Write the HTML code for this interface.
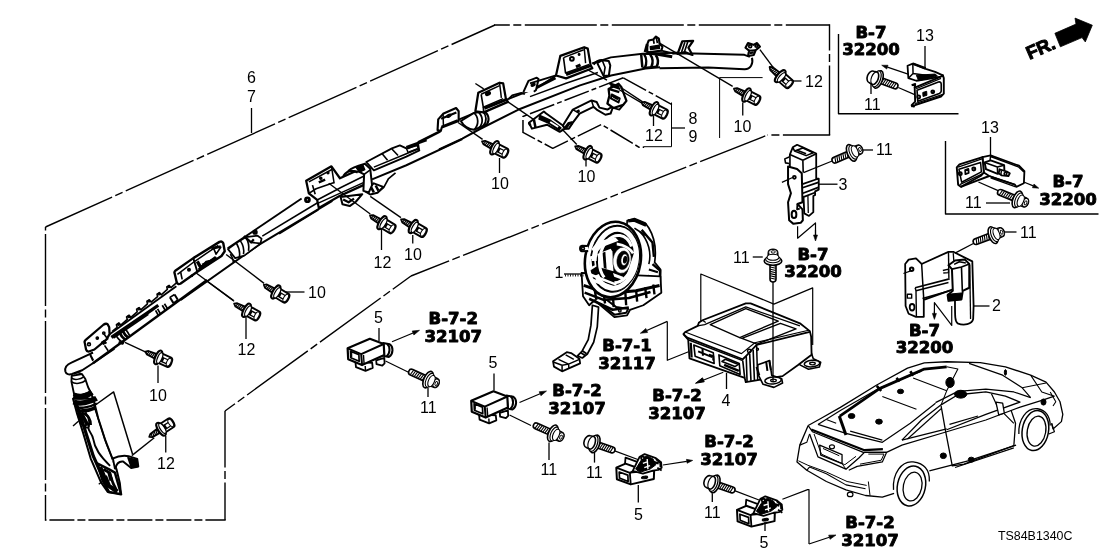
<!DOCTYPE html>
<html><head><meta charset="utf-8"><title>TS84B1340C</title>
<style>
html,body{margin:0;padding:0;background:#fff;}
body{width:1108px;height:554px;overflow:hidden;}
svg{display:block;will-change:transform;}
svg *{stroke-linecap:butt;stroke-linejoin:round;}
text{font-family:"Liberation Sans",sans-serif;fill:#000;stroke:none;}
text.b{font-family:"DejaVu Sans","Liberation Sans",sans-serif;font-weight:bold;font-size:16.6px;text-anchor:middle;stroke:#000;stroke-width:0.9px;paint-order:stroke;}
</style></head><body>
<svg width="1108" height="554" viewBox="0 0 1108 554" fill="none" stroke="#000">
<line x1="45.5" y1="227" x2="495" y2="25" stroke-width="1.4" stroke-dasharray="74.3 3.5 8 3.5" stroke-dashoffset="1.3"/>
<line x1="494" y1="25" x2="829.5" y2="25" stroke-width="1.4" stroke-dasharray="72 3.5 8 3.5" stroke-dashoffset="56.2"/>
<line x1="829.5" y1="24.3" x2="829.5" y2="135" stroke-width="1.4" stroke-dasharray="72 3.5 8 3.5" stroke-dashoffset="45.8"/>
<line x1="830.2" y1="135" x2="767.5" y2="135" stroke-width="1.4" stroke-dasharray="72 3.5 8 3.5" stroke-dashoffset="24.7"/>
<line x1="767.5" y1="135" x2="411" y2="276" stroke-width="1.4" stroke-dasharray="70 3.5 8 3.5" stroke-dashoffset="82.6"/>
<line x1="411" y1="276" x2="225" y2="411" stroke-width="1.4" stroke-dasharray="75 3.5 8 3.5" stroke-dashoffset="52.5"/>
<line x1="225" y1="411" x2="225" y2="520" stroke-width="1.4" stroke-dasharray="72 3.5 8 3.5" stroke-dashoffset="15.5"/>
<line x1="225.7" y1="520" x2="45.5" y2="520" stroke-width="1.4" stroke-dasharray="25 3 8 3" stroke-dashoffset="4.7"/>
<line x1="45.5" y1="520.7" x2="45.5" y2="227" stroke-width="1.4" stroke-dasharray="72 3.5 8 3.5" stroke-dashoffset="46.3"/>
<text x="247" y="83" font-size="16" text-anchor="start" >6</text>
<text x="247" y="102" font-size="16" text-anchor="start" >7</text>
<line x1="251.5" y1="108" x2="251.5" y2="133" stroke-width="1.3" />
<text x="237.5" y="355" font-size="16" text-anchor="start" >12</text>
<line x1="246" y1="317" x2="246" y2="339" stroke-width="1.3" />
<text x="149" y="400.5" font-size="16" text-anchor="start" >10</text>
<line x1="158" y1="365.5" x2="158" y2="383" stroke-width="1.3" />
<text x="157" y="468.5" font-size="16" text-anchor="start" >12</text>
<line x1="165.75" y1="436" x2="165.75" y2="452.5" stroke-width="1.3" />
<text x="373.5" y="267.5" font-size="16" text-anchor="start" >12</text>
<line x1="381.5" y1="229" x2="381.5" y2="250" stroke-width="1.3" />
<text x="404" y="260" font-size="16" text-anchor="start" >10</text>
<line x1="412.75" y1="235" x2="412.75" y2="243.5" stroke-width="1.3" />
<text x="491" y="188.5" font-size="16" text-anchor="start" >10</text>
<line x1="499.5" y1="158" x2="499.5" y2="173" stroke-width="1.3" />
<text x="308" y="297.5" font-size="16" text-anchor="start" >10</text>
<line x1="286" y1="292" x2="304.5" y2="292" stroke-width="1.3" />
<text x="374" y="323" font-size="16" text-anchor="start" >5</text>
<text x="420" y="413" font-size="16" text-anchor="start" >11</text>
<line x1="428" y1="388" x2="428" y2="397" stroke-width="1.3" />
<text x="488.5" y="367.5" font-size="16" text-anchor="start" >5</text>
<text x="540.5" y="475" font-size="16" text-anchor="start" >11</text>
<line x1="549" y1="442.5" x2="549" y2="460" stroke-width="1.3" />
<text x="805" y="87" font-size="16" text-anchor="start" >12</text>
<line x1="793" y1="81" x2="801.5" y2="81" stroke-width="1.3" />
<text x="733.5" y="132" font-size="16" text-anchor="start" >10</text>
<line x1="742.75" y1="102.5" x2="742.75" y2="115.5" stroke-width="1.3" />
<text x="688.5" y="124" font-size="16" text-anchor="start" >8</text>
<text x="688.5" y="142" font-size="16" text-anchor="start" >9</text>
<text x="645" y="140.5" font-size="16" text-anchor="start" >12</text>
<line x1="653.5" y1="116" x2="653.5" y2="126" stroke-width="1.3" />
<text x="577.5" y="182" font-size="16" text-anchor="start" >10</text>
<line x1="586" y1="158" x2="586" y2="166.5" stroke-width="1.3" />
<text x="554.5" y="278" font-size="16" text-anchor="start" >1</text>
<line x1="564" y1="274" x2="585" y2="274" stroke-width="1.3" />
<text x="733" y="262.75" font-size="16" text-anchor="start" >11</text>
<line x1="752.75" y1="257" x2="762.75" y2="257" stroke-width="1.3" />
<text x="876" y="155" font-size="16" text-anchor="start" >11</text>
<line x1="860.5" y1="150" x2="873" y2="150" stroke-width="1.3" />
<text x="838.5" y="190" font-size="16" text-anchor="start" >3</text>
<line x1="819" y1="184.2" x2="837.5" y2="184.2" stroke-width="1.3" />
<text x="965" y="208" font-size="16" text-anchor="start" >11</text>
<line x1="986" y1="203" x2="1010" y2="203" stroke-width="1.3" />
<text x="1020" y="237.75" font-size="16" text-anchor="start" >11</text>
<line x1="1003.5" y1="232" x2="1016.5" y2="232" stroke-width="1.3" />
<text x="916" y="40.5" font-size="16" text-anchor="start" >13</text>
<line x1="925" y1="46" x2="925" y2="68" stroke-width="1.3" />
<text x="864" y="109.5" font-size="16" text-anchor="start" >11</text>
<line x1="871" y1="84" x2="871" y2="94" stroke-width="1.3" />
<text x="981" y="132.5" font-size="16" text-anchor="start" >13</text>
<line x1="990.5" y1="137" x2="990.5" y2="155" stroke-width="1.3" />
<text x="992" y="311" font-size="16" text-anchor="start" >2</text>
<line x1="973.5" y1="306" x2="989.5" y2="306" stroke-width="1.3" />
<text x="721.5" y="405.5" font-size="16" text-anchor="start" >4</text>
<line x1="726.5" y1="373" x2="726.5" y2="389" stroke-width="1.3" />
<text x="586" y="478" font-size="16" text-anchor="start" >11</text>
<text x="634" y="519.5" font-size="16" text-anchor="start" >5</text>
<text x="704" y="518" font-size="16" text-anchor="start" >11</text>
<text x="759.5" y="547.5" font-size="16" text-anchor="start" >5</text>
<text x="998" y="540" font-size="12.4" text-anchor="start" >TS84B1340C</text>
<text class="b" x="453.3" y="324">B-7-2</text>
<text class="b" x="453.3" y="342">32107</text>
<text class="b" x="577" y="396">B-7-2</text>
<text class="b" x="577" y="414">32107</text>
<text class="b" x="627" y="351">B-7-1</text>
<text class="b" x="627" y="368.5">32117</text>
<text class="b" x="677" y="401">B-7-2</text>
<text class="b" x="677" y="419">32107</text>
<text class="b" x="729" y="447">B-7-2</text>
<text class="b" x="729" y="465">32107</text>
<text class="b" x="870" y="528">B-7-2</text>
<text class="b" x="870" y="545.5">32107</text>
<text class="b" x="813" y="259.5">B-7</text>
<text class="b" x="813" y="277">32200</text>
<text class="b" x="871" y="38">B-7</text>
<text class="b" x="871" y="55">32200</text>
<text class="b" x="1068" y="186.5">B-7</text>
<text class="b" x="1068" y="204.5">32200</text>
<text class="b" x="924.5" y="335.5">B-7</text>
<text class="b" x="924.5" y="353">32200</text>
<polyline points="838.5,34 838.5,113.7 958.5,113.7" stroke-width="1.4" fill="none" />
<polyline points="945.5,141 945.5,214 1098.5,214" stroke-width="1.4" fill="none" />
<polyline points="671.5,102.5 671.5,146.7 643.5,146.7" stroke-width="1.0" fill="none" />
<line x1="671.5" y1="128" x2="685" y2="128" stroke-width="1.3" />
<polyline points="762.6,77.6 719.6,77.6 719.6,138" stroke-width="1.0" fill="none" />
<path d="M 92.93 352.53 L 71.43 362.64 C 67.01 364.54 64.48 367.7 65.37 371.49 C 66.13 374.27 68.91 375.03 72.07 374.02 L 82.18 370.23 L 92.93 363.27 L 114.42 348.74" stroke-width="2.0" fill="#fff" />
<line x1="90.15" y1="355.06" x2="92.93" y2="360.87" stroke-width="1.5" />
<path d="M 71.69 375.92 L 71.43 381.61 L 73.96 393.62 L 75.23 401.83 L 92.93 398.67 L 91.03 392.98 L 88.12 387.29 L 85.34 379.08 L 81.93 374.02 Z" stroke-width="1.88" fill="#fff" />
<path d="M 71.69 378.07 C 73.96 380.34 80.28 379.71 83.82 376.8" stroke-width="1.5" fill="none" />
<path d="M 71.43 381.61 C 75.23 384.77 82.18 383.5 85.59 380.34" stroke-width="1.5" fill="none" />
<path d="M 73.96 374.02 C 75.86 372.76 79.02 372.5 80.92 373.51" stroke-width="1.5" fill="none" />
<path d="M 73.71 394.25 C 79.02 397.03 86.61 395.51 91.41 392.35" stroke-width="4.0" fill="none" />
<path d="M 74.97 401.83 C 80.28 403.73 90.4 401.83 95.2 398.04" stroke-width="4.25" fill="none" />
<path d="M 77.12 406.26 C 82.18 407.52 89.13 406.26 93.56 403.73" stroke-width="1.75" fill="none" />
<path d="M 78.39 409.42 C 82.18 410.43 87.87 409.42 91.66 407.52" stroke-width="2.75" fill="none" />
<path d="M 73.02 398.74 L 77.08 413.63 L 83.04 432.59 L 90.62 458.31 L 100.91 482.14 L 107.68 491.89 L 120.95 493.79 L 119.86 483.23 L 116.61 469.69 L 112.28 458.31 L 104.97 439.36 L 98.2 418.24 L 93.33 398.74 Z" stroke-width="2.0" fill="#fff" />
<path d="M 76.0 402.8 L 84.66 429.07 L 93.33 456.15 L 104.16 480.52 L 110.11 490.27" stroke-width="3.25" fill="none" />
<path d="M 81.95 412.82 C 87.91 412.82 90.62 420.4 88.45 427.17 C 87.91 431.23 91.97 432.59 93.33 439.36 C 94.68 448.84 100.09 456.15 110.11 465.89" stroke-width="1.88" fill="none" />
<path d="M 79.24 408.22 C 83.85 408.22 86.56 412.28 87.37 416.34" stroke-width="1.62" fill="none" />
<path d="M 93.87 405.51 L 100.09 424.47 L 106.32 443.42 L 113.63 461.56" stroke-width="1.5" fill="none" />
<path d="M 97.6 463.54 L 109.15 469.31 L 114.93 472.56 L 121.06 494.22 L 109.15 492.06 L 102.29 479.78 Z" stroke-width="2.5" fill="#fff" />
<path d="M 100.13 467.15 L 107.35 484.84 L 117.27 491.7" stroke-width="4.25" fill="none" />
<path d="M 103.38 469.31 L 109.15 472.56 L 113.12 483.39 L 116.73 490.61" stroke-width="2.75" fill="none" />
<path d="M 109.15 472.2 L 111.32 480.51" stroke-width="3.75" fill="none" />
<path d="M 105.54 475.81 L 109.15 484.84" stroke-width="3.0" fill="none" />
<circle cx="87.13" cy="426.17" r="1.62" stroke-width="1.75" fill="none"/>
<path d="M 74.05 395.53 C 78.82 398.13 86.39 396.61 92.02 392.28" stroke-width="5.5" fill="none" />
<path d="M 73.62 401.81 C 79.9 404.62 89.64 402.46 96.57 398.34" stroke-width="5.25" fill="none" />
<path d="M 76.22 407.0 C 82.06 408.84 90.72 406.79 96.79 403.54" stroke-width="2.25" fill="none" />
<path d="M 77.19 410.47 C 83.15 411.77 89.64 410.47 95.27 407.87" stroke-width="3.5" fill="none" />
<path d="M 78.27 412.63 L 82.06 424.97 M 80.98 412.63 L 87.48 424.97" stroke-width="3.75" fill="none" />
<path d="M 84.23 413.71 C 88.56 415.88 90.72 420.21 90.72 424.97" stroke-width="2.5" fill="none" />
<path d="M 111.74 458.85 C 117.7 456.15 123.11 455.06 128.53 456.15 L 137.19 458.85 L 138.28 466.44 L 131.23 468.06 L 123.11 461.56 C 119.05 461.02 116.34 463.73 114.99 469.14" stroke-width="2.0" fill="#fff" />
<path d="M 127.99 457.77 L 137.19 459.94 L 137.73 466.44 L 131.23 467.25 Z" stroke-width="1.5" fill="#000" />
<line x1="112.82" y1="457.77" x2="114.99" y2="469.14" stroke-width="1.88" />
<polyline points="94.68,405.51 113.63,391.97 132.59,454.25" stroke-width="1.5" fill="none" />
<line x1="131.78" y1="455.61" x2="154.25" y2="437.73" stroke-width="1.38" />
<line x1="73.02" y1="426.09" x2="78.7" y2="420.95" stroke-width="1.38" />
<line x1="98.74" y1="484.31" x2="103.07" y2="481.06" stroke-width="1.38" />
<line x1="92.96" y1="363.21" x2="207.04" y2="280.0" stroke-width="2.38" />
<line x1="92.96" y1="352.56" x2="90.07" y2="354.01" stroke-width="1.75" />
<path d="M 109.57 334.15 L 176.35 286.32" stroke-width="1.88" fill="none" />
<path d="M 112.27 331.44 L 117.15 327.29 L 116.43 324.77 L 118.95 322.96 L 120.76 325.13 L 127.26 319.35 L 126.53 316.82 L 129.06 315.2 L 130.87 317.36 L 137.18 311.77 L 136.64 309.24 L 139.17 307.62 L 140.79 309.78 L 147.47 303.83 L 146.93 301.3 L 149.28 299.86 L 151.08 302.02 L 157.58 296.61 L 157.04 294.08 L 159.39 292.64 L 161.19 294.8 L 167.33 289.39 L 166.79 286.86 L 169.13 285.42 L 170.94 287.58 L 177.26 282.17" stroke-width="1.62" fill="none" />
<circle cx="118.59" cy="324.4" r="0.9" stroke-width="1.25" fill="#000"/>
<circle cx="128.7" cy="316.64" r="0.9" stroke-width="1.25" fill="#000"/>
<circle cx="138.81" cy="308.88" r="0.9" stroke-width="1.25" fill="#000"/>
<circle cx="148.92" cy="301.12" r="0.9" stroke-width="1.25" fill="#000"/>
<circle cx="159.03" cy="293.9" r="0.9" stroke-width="1.25" fill="#000"/>
<circle cx="168.77" cy="286.68" r="0.9" stroke-width="1.25" fill="#000"/>
<path d="M 111.37 337.4 L 151.08 310.32 L 158.3 305.27" stroke-width="3.25" fill="none" />
<path d="M 113.54 338.12 L 148.38 314.3" stroke-width="1.5" fill="none" />
<path d="M 84.84 343.18 Q 83.94 341.37 85.74 339.93 L 103.43 324.77 Q 105.96 322.96 107.76 324.4 L 109.21 327.29 L 109.57 334.15 L 106.32 339.57 L 94.4 349.49 L 88.99 351.48 Q 86.82 351.84 86.1 349.68 Z" stroke-width="2.25" fill="#fff" />
<circle cx="88.99" cy="344.26" r="1.44" stroke-width="1.62" fill="none"/>
<circle cx="103.79" cy="333.07" r="1.08" stroke-width="1.62" fill="none"/>
<circle cx="97.29" cy="338.12" r="1.26" stroke-width="1.25" fill="#000"/>
<path d="M 101.44 342.27 L 104.15 340.47 L 106.32 342.82 L 103.43 344.26 Z" stroke-width="1.25" fill="#000" />
<path d="M 104.15 334.15 L 108.12 339.57" stroke-width="1.62" fill="none" />
<path d="M 115.34 334.15 C 117.15 337.76 119.49 340.47 121.84 341.73" stroke-width="1.75" fill="none" />
<path d="M 119.49 332.35 C 120.76 335.6 122.92 338.12 125.09 339.57" stroke-width="2.75" fill="none" />
<path d="M 122.56 330.54 C 124.01 333.43 125.81 335.96 127.98 337.4" stroke-width="2.75" fill="none" />
<path d="M 125.45 329.1 C 127.26 331.62 128.7 333.79 129.78 335.96" stroke-width="1.75" fill="none" />
<path d="M 118.59 342.27 L 122.56 343.54 L 123.65 341.01" stroke-width="2.5" fill="none" />
<line x1="90.07" y1="354.01" x2="93.32" y2="360.14" stroke-width="1.62" />
<line x1="104.51" y1="345.34" x2="108.12" y2="350.76" stroke-width="1.62" />
<path d="M 155.6 310.32 L 158.3 315.38 M 157.58 308.88 L 160.47 313.94" stroke-width="1.75" fill="none" />
<path d="M 162.27 305.27 L 165.52 310.69 M 164.44 303.83 L 167.69 308.88" stroke-width="1.75" fill="none" />
<path d="M 169.86 297.33 L 173.47 303.1 M 174.55 294.44 L 177.8 299.86" stroke-width="2.0" fill="none" />
<path d="M 169.86 297.33 L 174.55 294.44 M 173.47 303.1 L 177.8 299.86" stroke-width="1.62" fill="none" />
<line x1="124.91" y1="342.27" x2="145.31" y2="351.84" stroke-width="1.38" />
<line x1="207.4" y1="281.44" x2="234.12" y2="301.3" stroke-width="1.38" />
<path d="M 180.69 300.0 L 258.3 245.13 L 332.31 200.9" stroke-width="2.0" fill="none" />
<line x1="227.62" y1="248.38" x2="301.62" y2="198.56" stroke-width="1.88" />
<line x1="262.27" y1="236.1" x2="319.68" y2="201.44" stroke-width="1.62" />
<path d="M 227.98 249.1 L 236.28 242.96 L 245.67 237.18 L 257.58 235.74 L 261.55 238.63 L 260.47 243.68 L 244.22 255.6 L 235.2 258.12 Z" stroke-width="1.75" fill="#fff" />
<path d="M 236.28 242.96 C 238.81 247.29 240.25 252.35 239.35 256.86" stroke-width="1.62" fill="none" />
<path d="M 240.25 240.61 C 243.14 244.77 244.22 249.82 243.5 254.15" stroke-width="1.62" fill="none" />
<path d="M 245.67 237.18 C 248.56 241.52 249.28 246.21 248.56 250.9" stroke-width="1.62" fill="none" />
<path d="M 243.86 236.1 L 251.08 242.42 L 253.79 239.35" stroke-width="2.25" fill="none" />
<path d="M 251.08 242.42 L 260.11 243.32" stroke-width="1.62" fill="none" />
<circle cx="255.05" cy="232.13" r="1.44" stroke-width="2.5" fill="none"/>
<path d="M 230.32 254.15 C 232.13 256.86 233.39 259.57 233.39 262.27" stroke-width="1.62" fill="none" />
<path d="M 174.73 273.65 Q 173.83 271.84 175.63 270.4 L 193.32 258.12 L 219.49 241.88 Q 222.2 240.79 223.29 243.32 L 224.73 251.26 L 221.48 255.96 L 197.29 271.84 L 180.32 283.75 Q 177.8 284.84 176.71 282.31 Z" stroke-width="2.38" fill="#fff" />
<path d="M 177.44 274.37 L 195.13 261.01 L 218.23 245.49" stroke-width="1.5" fill="none" />
<path d="M 193.32 258.12 L 197.29 271.84" stroke-width="1.88" fill="none" />
<circle cx="188.99" cy="269.68" r="1.26" stroke-width="1.5" fill="#000"/>
<circle cx="191.88" cy="275.81" r="0.72" stroke-width="1.25" fill="#000"/>
<path d="M 180.69 272.2 L 182.13 279.42" stroke-width="1.62" fill="none" />
<path d="M 197.29 261.37 L 200.54 267.15 L 204.15 265.34 L 206.32 262.45 L 210.65 261.37 L 216.06 257.4" stroke-width="3.25" fill="none" />
<path d="M 213.18 247.29 L 216.06 254.15 L 220.76 247.29 Z" stroke-width="1.62" fill="none" />
<path d="M 211.37 248.74 L 220.76 246.57" stroke-width="2.5" fill="none" />
<path d="M 202.35 264.98 L 216.79 258.12" stroke-width="3.0" fill="none" />
<path d="M 198.38 269.31 L 209.57 263.54" stroke-width="2.0" fill="none" />
<line x1="226.17" y1="254.51" x2="264.08" y2="283.39" stroke-width="1.38" />
<line x1="195.13" y1="272.2" x2="233.39" y2="300.36" stroke-width="1.38" />
<path d="M 372.06 179.35 L 406.35 165.27 L 462.31 139.1" stroke-width="2.0" fill="none" />
<path d="M 377.47 192.71 L 383.79 187.29 L 388.3 178.99 L 395.52 172.85" stroke-width="1.62" fill="none" />
<path d="M 366.28 162.02 L 391.91 148.3 L 399.86 145.42 L 406.35 148.3 L 417.18 145.42 L 419.35 150.47 L 406.35 156.61 L 373.86 170.32 Z" stroke-width="1.88" fill="#fff" />
<path d="M 382.17 153.72 L 387.58 160.22 M 391.91 149.03 L 398.05 155.52" stroke-width="1.62" fill="none" />
<path d="M 406.35 148.3 L 408.52 153.36 M 373.86 167.08 L 406.35 153.72 L 417.18 149.03" stroke-width="1.5" fill="none" />
<line x1="406.35" y1="147.22" x2="426.57" y2="140.0" stroke-width="2.75" />
<path d="M 340.65 197.04 L 342.45 204.26 L 349.68 206.06 L 355.81 201.73 L 362.31 194.15 Z" stroke-width="2.0" fill="#fff" />
<path d="M 343.18 199.57 L 348.59 202.27 L 354.01 198.66" stroke-width="2.25" fill="none" />
<path d="M 364.84 191.26 L 370.25 194.51 L 377.47 192.71 L 383.25 186.93 L 373.86 183.32 Z" stroke-width="2.0" fill="#fff" />
<path d="M 371.16 187.29 L 373.86 192.35 M 375.67 185.49 L 378.38 190.54" stroke-width="2.5" fill="none" />
<path d="M 306.17 180.79 L 331.44 166.35 L 339.93 178.27 L 364.84 167.08 L 367.0 178.63 L 363.39 185.13 L 339.57 195.96 L 318.81 207.87 L 317.18 199.93 L 308.88 193.43 Z" stroke-width="2.25" fill="#fff" />
<path d="M 308.88 181.88 L 332.35 169.24" stroke-width="1.5" fill="none" />
<path d="M 317.18 199.93 L 341.37 187.29 L 364.12 176.1" stroke-width="1.62" fill="none" />
<path d="M 318.27 203.18 L 363.39 182.6" stroke-width="1.5" fill="none" />
<path d="M 331.44 166.35 L 334.15 183.32" stroke-width="1.5" fill="none" />
<path d="M 312.49 185.13 L 315.2 194.15 M 308.88 193.43 L 316.1 188.74 L 334.15 182.6" stroke-width="1.62" fill="none" />
<circle cx="320.79" cy="178.27" r="1.08" stroke-width="1.5" fill="#000"/>
<circle cx="328.01" cy="172.85" r="0.9" stroke-width="1.5" fill="#000"/>
<path d="M 318.81 182.42 L 325.13 179.71" stroke-width="2.5" fill="none" />
<circle cx="307.44" cy="199.75" r="1.99" stroke-width="2.75" fill="none"/>
<path d="M 348.59 170.69 C 352.2 167.08 359.42 165.27 364.84 163.83 L 370.25 168.88 L 372.06 185.13 L 368.81 192.35 L 363.39 190.9 L 364.12 174.3 L 359.42 171.77 Z" stroke-width="2.0" fill="#fff" />
<path d="M 355.81 167.08 L 363.03 165.27 L 364.84 169.78 L 359.42 172.13 Z" stroke-width="1.25" fill="#000" />
<path d="M 364.12 174.3 L 370.25 169.78" stroke-width="1.62" fill="none" />
<path d="M 343.18 176.1 C 346.79 170.69 352.2 169.78 357.62 172.49" stroke-width="2.0" fill="none" />
<path d="M 279.1 233.68 L 318.27 209.68" stroke-width="1.75" fill="none" />
<line x1="328.74" y1="183.32" x2="370.25" y2="214.01" stroke-width="1.38" />
<line x1="370.25" y1="196.32" x2="400.94" y2="217.62" stroke-width="1.38" />
<path d="M 458.05 119.93 L 508.59 98.99 L 538.38 87.08 L 556.06 75.52" stroke-width="1.88" fill="none" />
<path d="M 439,149.5 L 462.3,138.6 L 480,129 L 518,109.8 L 580,85.4 L 611,75.5 L 645.5,68.6 L 660,67.3" stroke-width="2.0" fill="none" />
<path d="M 460.94 121.01 L 473.94 112.89 L 483.68 111.26 C 488.38 113.43 490.18 119.57 486.93 124.26 L 473.94 129.86 C 468.88 129.49 463.1 125.88 460.94 121.01 Z" stroke-width="2.0" fill="#fff" />
<path d="M 473.94 112.89 C 478.63 116.86 479.35 124.98 473.94 129.86" stroke-width="1.75" fill="none" />
<path d="M 478.27 111.99 C 482.96 115.96 483.68 123.18 478.99 127.87" stroke-width="1.75" fill="none" />
<path d="M 482.6 111.44 C 486.57 115.05 487.29 121.37 483.32 125.7" stroke-width="1.75" fill="none" />
<path d="M 437.55 130.08 L 438.2 119.36 L 443.08 113.84 L 456.07 107.99 L 458.67 111.24 L 458.67 120.98 L 441.78 127.48 L 440.8 131.05 Z" stroke-width="2.12" fill="#fff" />
<path d="M 441.13 118.71 L 456.39 112.54 M 441.45 126.83 L 457.69 120.33" stroke-width="2.25" fill="none" />
<ellipse cx="448.92" cy="115.79" rx="2.27" ry="1.3" transform="rotate(-25 448.92 115.79)" stroke-width="1.25" fill="#000"/>
<path d="M 443.08 113.84 L 443.4 125.85" stroke-width="1.5" fill="none" />
<path d="M 418.07 142.42 L 440.15 131.38" stroke-width="2.75" fill="none" />
<path d="M 407.35 148.59 L 418.07 143.72 L 418.72 148.59 L 408.97 152.16" stroke-width="2.0" fill="none" />
<path d="M 475.38 111.26 L 478.27 92.85 L 499.57 82.74 L 503.18 83.47 L 505.88 98.63 L 507.87 101.88 L 483.68 112.35 Z" stroke-width="2.25" fill="#fff" />
<path d="M 481.16 94.3 L 483.32 107.29 L 503.18 98.63" stroke-width="1.62" fill="none" />
<path d="M 481.16 94.3 L 499.57 85.63" stroke-width="1.5" fill="none" />
<path d="M 483.68 112.35 L 483.32 107.29" stroke-width="1.62" fill="none" />
<path d="M 499.57 82.74 L 501.37 97.91" stroke-width="1.5" fill="none" />
<ellipse cx="488.01" cy="93.57" rx="2.53" ry="1.62" transform="rotate(-25 488.01 93.57)" stroke-width="1.25" fill="#000"/>
<line x1="475.38" y1="83.47" x2="483.68" y2="88.88" stroke-width="1.38" />
<path d="M 484.4 108.38 L 506.79 99.35" stroke-width="3.0" fill="none" />
<path d="M 523.39 92.13 L 528.45 80.94 L 536.75 77.69 L 538.56 79.13 L 536.03 89.96 L 533.86 91.77" stroke-width="2.0" fill="#fff" />
<ellipse cx="533.14" cy="84.91" rx="2.17" ry="1.26" transform="rotate(-25 533.14 84.91)" stroke-width="1.25" fill="#000"/>
<path d="M 508.59 98.99 L 512.2 95.38 L 521.23 92.85 L 524.84 94.3" stroke-width="1.75" fill="none" />
<path d="M 536.75 87.44 L 555.52 78.05" stroke-width="2.75" fill="none" />
<line x1="458.05" y1="122.45" x2="482.6" y2="139.42" stroke-width="1.38" />
<line x1="507.87" y1="101.88" x2="533.86" y2="119.57" stroke-width="1.38" />
<polyline points="623.28,77.81 522.98,116.53 522.98,132.42 552.77,148.31 601.43,124.48 639.17,147.32 644.13,147.32" stroke-width="1.5" fill="none" stroke-dasharray="26 3 5 3"/>
<polyline points="623.28,77.81 671.94,104.62" stroke-width="1.5" fill="none" stroke-dasharray="26 3 5 3"/>
<path d="M 528.94 122.69 L 543.83 111.57 L 546.22 113.56 L 562.9 125.47 L 564.89 128.65 L 559.72 131.83 L 547.01 124.68 L 531.92 128.65 Z" stroke-width="2.0" fill="#fff" />
<path d="M 539.86 115.54 L 549.79 119.91 L 560.91 127.86 L 558.93 130.24 L 547.81 122.69 L 539.07 119.12 Z" stroke-width="1.5" fill="#000" />
<path d="M 550.19 121.9 L 558.13 127.06" stroke-width="1.75" fill="none" stroke="#fff"/>
<path d="M 528.94 122.69 L 530.33 125.47 M 533.9 119.51 L 535.49 127.46" stroke-width="2.5" fill="none" />
<path d="M 562.9 125.47 L 572.83 109.58 L 591.5 100.45 L 596.66 102.04 L 599.44 107.6 L 607.39 109.58 L 613.35 106.01 L 610.57 113.56 L 605.4 114.75 L 596.66 109.58 L 593.49 106.8 L 579.58 113.56 L 572.83 122.69 L 568.86 128.65 L 564.89 128.65 Z" stroke-width="2.0" fill="#fff" />
<path d="M 572.83 109.58 L 579.58 113.56 M 591.5 100.45 L 593.49 106.8" stroke-width="1.5" fill="none" />
<path d="M 564.89 128.65 L 568.86 123.49 L 572.83 122.69" stroke-width="3.25" fill="none" />
<line x1="576.6" y1="111.97" x2="579.58" y2="110.38" stroke-width="2.5" />
<path d="M 608.58 88.93 L 618.51 83.76 L 621.29 86.94 L 626.45 100.84 L 623.28 104.82 L 613.35 107.99 L 607.39 103.62 L 609.37 95.68 Z" stroke-width="2.25" fill="#fff" />
<path d="M 611.76 94.49 L 619.7 98.46 L 618.51 102.43 L 610.96 98.46 Z" stroke-width="2.0" fill="none" />
<path d="M 613.35 96.47 L 618.11 99.26" stroke-width="2.5" fill="none" />
<path d="M 609.37 83.37 L 619.3 86.54 M 610.37 85.35 L 620.3 88.93 M 608.58 88.93 L 619.3 92.11" stroke-width="2.25" fill="none" />
<path d="M 623.28 104.82 L 619.3 109.58 L 613.35 107.99" stroke-width="1.75" fill="none" />
<line x1="619.3" y1="89.72" x2="641.55" y2="102.83" stroke-width="1.38" />
<line x1="561.71" y1="128.65" x2="576.8" y2="144.54" stroke-width="1.38" />
<line x1="579.58" y1="65.49" x2="606.99" y2="80.19" stroke-width="1.38" />
<path d="M 530.0 83.32 L 555.99 75.38" stroke-width="1.88" fill="none" />
<path d="M 592.09 63.39 L 610.87 57.33 L 642.64 53.72 L 674.4 52.71" stroke-width="1.88" fill="none" />
<path d="M 530.0 96.61 L 566.1 83.32 L 597.87 72.49" stroke-width="1.5" fill="none" />
<path d="M 555.99 75.52 L 560.32 55.88 L 584.15 47.22 L 587.76 48.66 L 590.65 65.42 L 592.38 68.3 L 566.1 78.41 Z" stroke-width="2.25" fill="#fff" />
<path d="M 563.5 57.62 L 565.52 72.92 L 589.21 64.55" stroke-width="1.62" fill="none" />
<path d="M 563.5 57.62 L 583.72 49.82" stroke-width="1.5" fill="none" />
<path d="M 584.15 47.22 L 585.6 63.1" stroke-width="1.5" fill="none" />
<circle cx="571.88" cy="58.77" r="1.88" stroke-width="2.0" fill="none"/>
<circle cx="579.1" cy="54.44" r="0.87" stroke-width="1.25" fill="#000"/>
<path d="M 566.1 74.66 L 591.37 65.42" stroke-width="2.75" fill="none" />
<path d="M 575.92 66.86 L 580.54 64.84" stroke-width="3.0" fill="none" />
<path d="M 597.29 63.1 L 602.2 60.22 L 608.7 60.94 L 610.29 65.42 L 608.84 75.52 L 603.65 76.1 Z" stroke-width="2.0" fill="#fff" />
<path d="M 602.2 60.22 L 605.09 67.44 L 603.65 76.1" stroke-width="1.62" fill="none" />
<path d="M 593.54 64.55 C 595.7 61.66 598.59 60.22 602.2 60.22" stroke-width="2.25" fill="none" />
<path d="M 641.19 54.44 L 642.35 67.44 M 644.08 54.15 C 646.68 58.05 646.68 63.83 644.95 67.73 M 650.14 54.44 C 653.03 58.05 653.03 63.1 651.3 67.15 M 655.63 55.02 C 658.52 58.05 658.52 63.1 656.79 66.57" stroke-width="2.5" fill="none" />
<path d="M 642.35 53.86 L 657.08 54.44 M 642.35 67.73 L 657.08 66.28" stroke-width="1.62" fill="none" />
<line x1="674.4" y1="52.71" x2="690.0" y2="52.42" stroke-width="1.88" />
<path d="M 672.2 53.52 L 693.86 53.52 L 744.4 54.78 L 749.82 56.77" stroke-width="1.88" fill="none" />
<path d="M 659.57 68.32 L 708.3 67.42 L 744.4 69.22 C 750.72 69.4 753.43 63.81 751.99 57.85" stroke-width="2.0" fill="none" />
<path d="M 647.29 44.13 L 648.74 40.52 L 653.25 39.44 L 655.96 36.55 L 658.84 38.72 L 659.57 43.77 L 662.45 46.66 L 661.37 50.63 L 647.29 52.44 Z" stroke-width="2.12" fill="#fff" />
<path d="M 650.18 46.66 L 659.21 45.22 L 659.57 48.47 L 650.54 49.55 Z" stroke-width="1.25" fill="#000" />
<path d="M 653.43 39.8 L 654.15 43.77 M 656.32 37.64 L 657.4 43.05" stroke-width="1.75" fill="none" />
<path d="M 645.13 52.08 L 647.29 44.13 M 647.29 52.44 L 672.2 56.77" stroke-width="3.0" fill="none" />
<path d="M 661.37 50.63 L 674.01 53.52" stroke-width="1.75" fill="none" />
<path d="M 677.62 53.88 L 682.31 41.25 L 693.14 40.88 L 688.45 47.74 L 692.42 54.96 L 684.84 52.08 Z" stroke-width="2.25" fill="#fff" />
<path d="M 684.84 42.33 L 681.59 52.08 M 687.73 41.97 L 684.48 51.71" stroke-width="1.62" fill="none" />
<path d="M 745.49 47.74 L 748.01 43.05 L 753.43 44.86 L 757.04 43.05 L 759.93 46.66 L 755.6 50.27 L 753.79 54.96 L 748.01 56.05 L 749.1 50.63 Z" stroke-width="2.12" fill="#fff" />
<circle cx="750.18" cy="46.3" r="1.44" stroke-width="1.75" fill="none"/>
<circle cx="756.32" cy="45.94" r="1.26" stroke-width="1.75" fill="none"/>
<path d="M 749.1 50.63 L 755.23 50.27 M 749.46 53.16 L 753.79 52.44" stroke-width="2.0" fill="none" />
<line x1="659.57" y1="43.05" x2="732.67" y2="86.37" stroke-width="1.38" />
<line x1="759.93" y1="49.55" x2="773.29" y2="67.6" stroke-width="1.38" />
<line x1="620.94" y1="87.45" x2="642.6" y2="101.9" stroke-width="1.38" />
<path d="M 627.2 220.47 L 634.42 218.66 L 645.25 223.0 L 648.86 228.05 C 654.28 237.08 656.44 249.71 654.64 262.35 L 660.6 269.57 L 660.05 292.13 L 648.86 294.84 L 632.62 300.25 L 623.59 289.42 Z" stroke-width="1.7" fill="#fff" />
<path d="M 639.84 231.66 C 648.86 240.69 651.57 253.32 648.86 264.15" stroke-width="1.6" fill="none" />
<path d="M 634.42 228.05 L 645.25 235.27" stroke-width="1.6" fill="none" />
<path d="M 648.86 269.57 L 657.89 272.27 M 647.96 275.88 L 658.79 278.59 M 647.42 282.2 L 658.79 284.91 M 647.06 288.52 L 658.79 291.23" stroke-width="2.2" fill="none" />
<path d="M 628.1 220.83 L 634.42 220.11 L 646.16 225.16" stroke-width="3.4" fill="none" />
<path d="M 652.47 264.15 L 660.05 270.47 L 659.69 291.59" stroke-width="2.4" fill="none" />
<path d="M 641.64 229.86 L 652.47 242.49 L 653.92 256.93" stroke-width="2.4" fill="none" />
<path d="M 581.57 272.78 L 583.01 296.25 L 589.15 305.27 L 594.57 300.22 L 614.42 317.18 L 627.06 315.38 L 629.95 309.96 L 643.3 305.27 L 661.35 292.64 L 660.45 276.39 Z" stroke-width="1.8" fill="#fff" />
<path d="M 583.74 285.42 L 607.2 293.54 L 636.08 290.83 L 659.55 285.42" stroke-width="3.0" fill="none" />
<path d="M 584.64 292.64 L 603.59 299.86 L 628.86 298.05 L 650.52 291.91" stroke-width="2.6" fill="none" />
<path d="M 589.15 298.77 L 612.62 309.78 L 628.86 307.44" stroke-width="2.6" fill="none" />
<path d="M 594.57 289.03 L 596.37 299.86 M 603.59 292.64 L 605.04 303.47 M 612.62 292.64 L 613.7 307.08 M 625.25 290.83 L 626.16 305.27 M 636.08 289.93 L 637.17 301.66 M 645.11 287.22 L 646.55 298.05 M 653.23 284.51 L 654.49 294.44" stroke-width="2.4" fill="none" />
<path d="M 599.98 303.47 L 614.42 314.66 L 626.16 312.85 L 628.14 308.88 L 616.23 307.08 L 607.2 300.22" stroke-width="2.0" fill="none" />
<circle cx="619.84" cy="310.69" r="1.26" stroke-width="1.4" fill="none"/>
<ellipse cx="612.94" cy="259.46" rx="27.8" ry="37.91" transform="rotate(9 612.94 259.46)" stroke-width="2.6" fill="#fff"/>
<ellipse cx="614.93" cy="258.74" rx="24.19" ry="33.57" transform="rotate(9 614.93 258.74)" stroke-width="1.2" fill="#000"/>
<path d="M 591.43 248.91 L 597.76 241.32 L 615.46 237.53 L 618.62 240.69 L 602.18 247.01 L 595.23 253.96 Z" stroke-width="0.5" fill="#fff" stroke="none"/>
<path d="M 597.25 253.96 L 610.65 248.65 L 612.42 251.43 L 613.43 271.16 L 600.28 267.62 Z" stroke-width="0.5" fill="#fff" stroke="none"/>
<path d="M 602.56 252.7 L 605.34 251.69 L 606.61 268.88 L 603.82 268.12 Z" stroke-width="0.5" fill="#000" stroke="none"/>
<ellipse cx="622.03" cy="260.28" rx="9.1" ry="13.15" transform="rotate(8 622.03 260.28)" stroke-width="0.5" fill="#fff"/>
<ellipse cx="623.04" cy="260.28" rx="6.07" ry="9.36" transform="rotate(8 623.04 260.28)" stroke-width="0.5" fill="#000"/>
<ellipse cx="624.3" cy="259.78" rx="3.29" ry="5.82" transform="rotate(8 624.3 259.78)" stroke-width="0.5" fill="#fff"/>
<ellipse cx="625.06" cy="259.78" rx="1.52" ry="3.29" transform="rotate(8 625.06 259.78)" stroke-width="1.0" fill="#000"/>
<path d="M 625.57 278.74 L 633.91 253.2 L 637.2 254.22 L 629.36 280.76 Z" stroke-width="0.5" fill="#fff" stroke="none"/>
<path d="M 589.92 272.93 L 616.72 283.55 L 616.21 285.82 L 589.16 275.71 Z" stroke-width="0.5" fill="#fff" stroke="none"/>
<path d="M 592.7 278.49 L 612.93 285.82 L 612.42 289.61 L 593.96 282.28 Z" stroke-width="0.5" fill="#fff" stroke="none"/>
<path d="M 616.72 242.59 C 625.57 243.85 631.89 248.91 634.42 252.7 L 631.89 253.96 C 629.36 250.17 624.3 246.38 616.72 245.62 Z" stroke-width="0.5" fill="#fff" stroke="none"/>
<path d="M 588.91 256.49 L 595.23 255.23 L 596.49 266.61 L 590.17 270.4 Z" stroke-width="0.5" fill="#fff" stroke="none"/>
<path d="M 591.43 259.02 L 593.96 258.51 L 594.72 265.34 L 592.19 266.61 Z" stroke-width="0.5" fill="#000" stroke="none"/>
<path d="M 612.93 272.93 L 623.04 276.72 L 624.3 280.51 L 614.19 276.72 Z" stroke-width="0.5" fill="#fff" stroke="none"/>
<ellipse cx="615.29" cy="258.74" rx="20.94" ry="29.6" transform="rotate(9 615.29 258.74)" stroke-width="5.0" stroke="#fff" stroke-dasharray="60 14 90 10 40 18" fill="none"/>
<ellipse cx="616.37" cy="259.1" rx="16.61" ry="23.83" transform="rotate(9 616.37 259.1)" stroke-width="3.0" stroke="#fff" stroke-dasharray="30 12 70 16" fill="none"/>
<path d="M 587.85 246.1 L 582.08 245.74 C 579.37 246.1 579.37 250.79 582.08 251.34 L 588.21 250.97" stroke-width="2.0" fill="#fff" />
<circle cx="582.98" cy="248.45" r="1.44" stroke-width="1.6" fill="none"/>
<path d="M 592.4 305.27 L 590.96 325.13 L 588.25 339.57 L 581.93 351.3 L 577.42 355.81 L 582.29 357.98 L 587.35 354.01 L 593.66 342.27 L 597.27 326.93 L 598.54 307.08 Z" stroke-width="1.7" fill="#fff" />
<path d="M 580.49 352.56 L 585.18 355.45 M 582.29 350.76 L 586.62 353.65" stroke-width="1.8" fill="none" />
<path d="M 553.05 361.23 L 566.77 352.2 L 571.1 353.1 L 579.4 358.7 L 580.13 363.39 L 562.08 371.34 L 553.95 366.64 Z" stroke-width="1.8" fill="#fff" />
<path d="M 558.47 359.42 L 568.57 364.12 L 579.4 359.42 M 568.57 364.12 L 568.94 368.45 M 553.95 362.31 L 562.08 365.2 L 562.08 371.34 M 562.08 365.2 L 568.57 364.12" stroke-width="1.5" fill="none" />
<path d="M 565.69 354.91 L 573.81 359.42" stroke-width="1.4" fill="none" />
<polyline points="688.5,351.7 667.3,360.3 667.3,321.4" stroke-width="1.2" fill="none" />
<line x1="565.5" y1="274.3" x2="565.5" y2="276.5" stroke-width="0.9" />
<line x1="568.0" y1="274.3" x2="568.0" y2="276.5" stroke-width="0.9" />
<line x1="570.5" y1="274.3" x2="570.5" y2="276.5" stroke-width="0.9" />
<line x1="573.0" y1="274.3" x2="573.0" y2="276.5" stroke-width="0.9" />
<line x1="575.5" y1="274.3" x2="575.5" y2="276.5" stroke-width="0.9" />
<line x1="578.0" y1="274.3" x2="578.0" y2="276.5" stroke-width="0.9" />
<line x1="580.5" y1="274.3" x2="580.5" y2="276.5" stroke-width="0.9" />
<line x1="583.0" y1="274.3" x2="583.0" y2="276.5" stroke-width="0.9" />
<polyline points="700.8,321 700.8,274 773.9,304.1 812.7,287.9 812.7,345" stroke-width="1.2" fill="none" />
<path d="M 796.65 352.74 L 799.9 364.87 L 808.56 369.2 L 819.38 367.03 L 820.68 362.27 L 813.32 358.8 L 808.56 344.95 L 797.73 349.28 Z" stroke-width="1.6" fill="#fff" />
<ellipse cx="812.02" cy="363.57" rx="7.79" ry="3.25" transform="rotate(-5 812.02 363.57)" stroke-width="1.5" fill="#fff"/>
<ellipse cx="812.46" cy="363.57" rx="2.81" ry="1.3" transform="rotate(0 812.46 363.57)" stroke-width="1.3" fill="none"/>
<path d="M 795.57 349.71 L 798.17 358.37 M 806.39 344.95 L 808.56 354.91 M 808.56 344.95 L 810.72 354.47" stroke-width="2.0" fill="none" />
<path d="M 683.42 334.12 L 685.15 331.96 L 697.71 325.9 L 699.01 322.43 L 702.47 320.27 L 745.77 303.38 L 750.54 303.38 L 799.9 323.3 L 809.86 331.09 L 811.16 336.72 L 811.59 354.69 L 797.73 365.3 L 782.58 376.12 L 757.68 380.02 L 745.77 382.19 L 744.69 377.86 L 689.48 358.37 L 688.19 339.75 Z" stroke-width="1.8" fill="#fff" />
<path d="M 683.42 334.12 L 687.32 337.59 L 742.74 359.24 L 746.21 355.77 L 756.6 344.95 L 809.86 331.96" stroke-width="1.8" fill="none" />
<path d="M 685.15 331.96 L 741.44 353.61 L 754.87 342.78 L 808.56 330.23" stroke-width="1.2" fill="none" />
<path d="M 697.71 325.9 L 704.64 324.6 L 745.77 306.85 L 799.9 325.9" stroke-width="1.2" fill="none" />
<path d="M 702.47 320.27 L 705.72 322.43" stroke-width="1.2" fill="none" />
<path d="M 710.27 324.6 L 745.77 308.58 L 778.25 321.13 L 739.71 337.59 Z" stroke-width="1.4" fill="none" />
<path d="M 741.88 338.45 L 780.41 323.3 L 796.0 328.93 L 757.03 344.08 Z" stroke-width="1.4" fill="none" />
<path d="M 739.71 337.59 L 741.88 338.45" stroke-width="1.2" fill="none" />
<path d="M 688.19 339.75 L 742.74 360.54" stroke-width="1.4" fill="none" />
<path d="M 693.81 344.95 L 713.3 352.74 L 714.17 363.57 L 695.11 356.21 Z" stroke-width="1.6" fill="none" />
<path d="M 718.93 354.91 L 739.28 363.57 L 740.15 374.39 L 719.79 365.73 Z" stroke-width="1.6" fill="none" />
<path d="M 698.14 351.44 L 712.22 357.07 M 702.47 348.41 L 702.91 355.77 M 708.97 354.69 L 713.3 356.21 L 713.3 360.54" stroke-width="2.0" fill="none" />
<path d="M 721.96 361.4 L 734.95 366.6 L 738.41 364.43 L 725.42 359.24 Z" stroke-width="1.6" fill="none" />
<path d="M 724.12 364.87 L 738.85 370.93" stroke-width="2.4" fill="none" />
<path d="M 690.78 342.78 L 691.65 357.51" stroke-width="2.2" fill="none" />
<path d="M 742.74 360.54 L 744.69 377.86" stroke-width="1.6" fill="none" />
<path d="M 756.6 344.95 L 757.68 380.02" stroke-width="1.5" fill="none" />
<path d="M 746.21 355.77 L 747.07 381.75 M 749.67 353.61 L 750.97 380.89 M 753.13 349.71 L 754.43 380.45" stroke-width="1.6" fill="none" />
<circle cx="749.24" cy="351.01" r="1.73" stroke-width="1.5" fill="none"/>
<circle cx="757.46" cy="349.28" r="1.08" stroke-width="1.3" fill="none"/>
<path d="M 757.68 373.53 L 763.09 384.35 L 773.92 387.38 L 782.58 383.05 L 781.71 378.72 L 771.75 375.26 L 769.59 360.54 L 757.9 364.87 Z" stroke-width="1.6" fill="#fff" />
<ellipse cx="773.05" cy="380.45" rx="8.23" ry="3.46" transform="rotate(-5 773.05 380.45)" stroke-width="1.5" fill="#fff"/>
<ellipse cx="773.49" cy="380.45" rx="2.81" ry="1.3" transform="rotate(0 773.49 380.45)" stroke-width="1.3" fill="none"/>
<path d="M 766.12 361.4 L 767.42 370.93 M 769.16 360.1 L 770.89 370.06" stroke-width="2.0" fill="none" />
<path d="M 756.6 367.03 L 759.2 375.26" stroke-width="2.2" fill="none" />
<line x1="773" y1="282" x2="773" y2="381" stroke-width="1.3" />
<line x1="723.26" y1="372.23" x2="698.14" y2="382.19" stroke-width="1.2" />
<path d="M 695.55 383.27 L 702.47 377.86 L 704.21 381.75 Z" stroke-width="1.0" fill="#000" />
<path d="M 355.42 361.88 L 355.99 367.08 L 365.52 370.83 L 372.74 367.94 L 372.17 362.74 Z" stroke-width="1.8" fill="#fff" />
<path d="M 376.21 360.43 L 376.5 364.19 L 382.27 365.63 L 384.58 363.32 L 384.3 357.83 Z" stroke-width="1.8" fill="#fff" />
<path d="M 365.52 370.83 L 365.23 365.92" stroke-width="1.4" fill="none" />
<path d="M 383.14 343.1 L 389.78 344.26 C 393.54 346.71 393.54 353.94 388.92 356.97 L 384.01 356.1 Z" stroke-width="2.0" fill="#fff" />
<path d="M 387.04 343.83 C 390.36 346.71 390.36 353.21 386.61 356.39" stroke-width="2.0" fill="none" />
<path d="M 347.62 348.3 L 369.86 338.77 L 383.72 343.97 L 384.3 354.95 L 362.06 365.05 L 348.19 359.28 Z" stroke-width="2.2" fill="#fff" />
<path d="M 347.62 348.3 L 361.19 354.08 L 383.72 343.97 M 361.19 354.08 L 362.06 365.05" stroke-width="2.0" fill="none" />
<path d="M 363.5 354.95 L 364.08 363.9" stroke-width="1.4" fill="none" />
<path d="M 350.51 351.19 L 358.88 354.66 L 359.17 361.3 L 350.79 357.83 Z" stroke-width="1.7" fill="none" />
<path d="M 351.66 352.35 L 351.66 357.26" stroke-width="1.2" fill="none" />
<path d="M 479.02 414.38 L 479.59 419.58 L 489.12 423.33 L 496.34 420.44 L 495.77 415.24 Z" stroke-width="1.8" fill="#fff" />
<path d="M 499.81 412.93 L 500.1 416.69 L 505.87 418.13 L 508.18 415.82 L 507.9 410.33 Z" stroke-width="1.8" fill="#fff" />
<path d="M 489.12 423.33 L 488.83 418.42" stroke-width="1.4" fill="none" />
<path d="M 506.74 395.6 L 513.38 396.76 C 517.14 399.21 517.14 406.44 512.52 409.47 L 507.61 408.6 Z" stroke-width="2.0" fill="#fff" />
<path d="M 510.64 396.33 C 513.96 399.21 513.96 405.71 510.21 408.89" stroke-width="2.0" fill="none" />
<path d="M 471.22 400.8 L 493.46 391.27 L 507.32 396.47 L 507.9 407.45 L 485.66 417.55 L 471.79 411.78 Z" stroke-width="2.2" fill="#fff" />
<path d="M 471.22 400.8 L 484.79 406.58 L 507.32 396.47 M 484.79 406.58 L 485.66 417.55" stroke-width="2.0" fill="none" />
<path d="M 487.1 407.45 L 487.68 416.4" stroke-width="1.4" fill="none" />
<path d="M 474.11 403.69 L 482.48 407.16 L 482.77 413.8 L 474.39 410.33 Z" stroke-width="1.7" fill="none" />
<path d="M 475.26 404.85 L 475.26 409.76" stroke-width="1.2" fill="none" />
<line x1="379" y1="328" x2="379" y2="341" stroke-width="1.3" />
<line x1="392" y1="341.8" x2="413.04" y2="333.0" stroke-width="1.2" />
<polygon points="419.5,330.3 413.89,335.03 412.19,330.97" stroke-width="0.6" fill="#000" />
<line x1="385.5" y1="361" x2="408" y2="372" stroke-width="1.2" />
<line x1="494" y1="373.5" x2="494" y2="390.5" stroke-width="1.3" />
<line x1="519.5" y1="402.5" x2="540.06" y2="393.74" stroke-width="1.2" />
<polygon points="546.5,391 540.92,395.77 539.2,391.72" stroke-width="0.6" fill="#000" />
<line x1="509.5" y1="415" x2="531" y2="425.5" stroke-width="1.2" />
<path d="M 624.96 464.19 L 625.54 457.55 L 638.54 462.45 L 638.83 468.52 Z" stroke-width="1.8" fill="#fff" />
<path d="M 616.3 467.65 L 625.54 463.61 L 638.54 468.23 L 654.13 470.54 L 653.84 478.92 L 630.74 484.4 L 616.88 479.21 Z" stroke-width="2.0" fill="#fff" />
<path d="M 616.3 467.65 L 629.87 472.85 L 638.54 468.23 M 629.87 472.85 L 630.74 484.4" stroke-width="1.8" fill="none" />
<path d="M 629.87 472.85 L 653.84 470.54" stroke-width="1.4" fill="none" />
<path d="M 619.19 471.99 L 627.85 475.16 L 628.14 481.52 L 619.48 478.05 Z" stroke-width="1.7" fill="none" />
<ellipse cx="644.6" cy="477.47" rx="3.18" ry="1.3" transform="rotate(-8 644.6 477.47)" stroke-width="1.0" fill="#000"/>
<path d="M 632.76 470.83 L 639.69 456.68 L 644.6 454.08 L 655.87 458.12 L 661.06 462.17 L 661.64 467.65 L 658.18 469.96 L 652.98 470.54 L 642.87 473.72 Z" stroke-width="1.8" fill="#fff" />
<path d="M 635.65 469.1 L 642.87 457.55 L 647.2 456.1 L 652.98 458.99 L 655.87 464.77 L 650.09 469.1 L 639.98 472.27 Z" stroke-width="1.0" fill="#000" />
<path d="M 642.87 463.32 L 647.2 461.88 M 644.31 467.65 L 650.09 465.63 M 647.2 458.99 L 647.92 469.1" stroke-width="1.4" fill="none" stroke="#fff"/>
<circle cx="642.58" cy="458.12" r="1.59" stroke-width="1.8" fill="#fff"/>
<path d="M 655.87 458.99 L 660.2 462.74 L 660.49 467.08 M 657.31 467.65 L 661.64 470.54" stroke-width="1.8" fill="none" />
<path d="M 652.98 461.88 L 658.75 463.32" stroke-width="2.4" fill="none" />
<path d="M 745.66 506.39 L 746.24 499.75 L 759.24 504.65 L 759.53 510.72 Z" stroke-width="1.8" fill="#fff" />
<path d="M 737.0 509.85 L 746.24 505.81 L 759.24 510.43 L 774.83 512.74 L 774.54 521.12 L 751.44 526.6 L 737.58 521.41 Z" stroke-width="2.0" fill="#fff" />
<path d="M 737.0 509.85 L 750.57 515.05 L 759.24 510.43 M 750.57 515.05 L 751.44 526.6" stroke-width="1.8" fill="none" />
<path d="M 750.57 515.05 L 774.54 512.74" stroke-width="1.4" fill="none" />
<path d="M 739.89 514.19 L 748.55 517.36 L 748.84 523.72 L 740.18 520.25 Z" stroke-width="1.7" fill="none" />
<ellipse cx="765.3" cy="519.67" rx="3.18" ry="1.3" transform="rotate(-8 765.3 519.67)" stroke-width="1.0" fill="#000"/>
<path d="M 753.46 513.03 L 760.39 498.88 L 765.3 496.28 L 776.57 500.32 L 781.76 504.37 L 782.34 509.85 L 778.88 512.16 L 773.68 512.74 L 763.57 515.92 Z" stroke-width="1.8" fill="#fff" />
<path d="M 756.35 511.3 L 763.57 499.75 L 767.9 498.3 L 773.68 501.19 L 776.57 506.97 L 770.79 511.3 L 760.68 514.47 Z" stroke-width="1.0" fill="#000" />
<path d="M 763.57 505.52 L 767.9 504.08 M 765.01 509.85 L 770.79 507.83 M 767.9 501.19 L 768.62 511.3" stroke-width="1.4" fill="none" stroke="#fff"/>
<circle cx="763.28" cy="500.32" r="1.59" stroke-width="1.8" fill="#fff"/>
<path d="M 776.57 501.19 L 780.9 504.94 L 781.19 509.28 M 778.01 509.85 L 782.34 512.74" stroke-width="1.8" fill="none" />
<path d="M 773.68 504.08 L 779.45 505.52" stroke-width="2.4" fill="none" />
<line x1="594.5" y1="453" x2="594.5" y2="462.6" stroke-width="1.3" />
<line x1="614" y1="450.6" x2="638.5" y2="459.7" stroke-width="1.2" />
<line x1="663" y1="465" x2="686.77" y2="461.32" stroke-width="1.2" />
<polygon points="692.7,460.4 687.08,463.29 686.46,459.34" stroke-width="0.6" fill="#000" />
<line x1="638.3" y1="485" x2="638.3" y2="502.5" stroke-width="1.3" />
<line x1="712.3" y1="493.2" x2="712.3" y2="502" stroke-width="1.3" />
<line x1="734.5" y1="490.6" x2="759" y2="500" stroke-width="1.2" />
<line x1="765" y1="522" x2="765" y2="531" stroke-width="1.3" />
<polyline points="782.4,499.3 807.6,489.6 809,489.6 809,544" stroke-width="1.2" fill="none" />
<line x1="809" y1="544" x2="829.36" y2="537.21" stroke-width="1.2" />
<polygon points="836,535 830.05,539.3 828.66,535.13" stroke-width="0.6" fill="#000" />
<line x1="667.3" y1="321.4" x2="646.71" y2="330.48" stroke-width="1.2" />
<polygon points="640.3,333.3 645.82,328.46 647.59,332.49" stroke-width="0.6" fill="#000" />
<path d="M 789.86 154.55 L 792.74 147.33 L 797.08 144.8 L 802.85 147.33 L 816.21 153.47 L 816.21 178.74 L 818.74 178.74 L 818.74 189.57 L 815.13 191.37 L 815.13 194.98 L 813.32 196.06 L 813.32 212.13 L 808.99 215.92 L 804.3 213.39 L 803.57 197.87 L 789.86 184.15 Z" stroke-width="1.8" fill="#fff" />
<path d="M 789.86 154.55 L 802.85 160.32 L 816.21 153.83 M 802.85 160.32 L 803.21 172.6" stroke-width="1.6" fill="none" />
<path d="M 794.55 150.94 L 806.1 155.63 L 813.32 152.74 L 802.85 148.05 Z" stroke-width="1.5" fill="none" />
<path d="M 797.08 150.22 L 806.1 153.83 M 792.74 147.33 L 794.55 150.94" stroke-width="1.6" fill="none" />
<path d="M 802.49 184.15 L 818.01 178.74 M 802.49 187.76 L 818.38 182.35 M 802.85 193.18 L 818.38 187.4 M 803.21 197.15 L 815.13 192.45" stroke-width="1.7" fill="none" />
<path d="M 807.91 195.88 L 808.27 213.03" stroke-width="1.3" fill="none" />
<path d="M 789.13 157.08 L 784.8 158.88 L 785.52 162.85 L 789.13 163.57" stroke-width="1.6" fill="#fff" />
<path d="M 788.05 166.46 L 797.08 168.99 L 801.77 173.32 L 802.49 202.2 L 797.44 204.01 L 802.49 209.42 L 802.85 220.25 L 800.69 222.78 L 793.47 223.86 L 789.13 220.25 L 788.05 202.2 L 790.94 193.18 L 788.05 184.15 Z" stroke-width="2.0" fill="#fff" />
<ellipse cx="794.01" cy="214.48" rx="2.35" ry="3.61" transform="rotate(0 794.01 214.48)" stroke-width="2.0" fill="none"/>
<circle cx="794.37" cy="177.29" r="1.44" stroke-width="1.8" fill="none"/>
<path d="M 797.44 204.01 L 797.08 209.42 L 799.78 208.7" stroke-width="1.8" fill="none" />
<line x1="781.91" y1="182.35" x2="793.1" y2="177.29" stroke-width="1.2" />
<line x1="803.57" y1="172.6" x2="832.82" y2="160.69" stroke-width="1.2" />
<polyline points="797.6,226.3 797.6,238.2 815.5,223 815.5,235" stroke-width="1.2" fill="none" />
<line x1="815.5" y1="230" x2="815.5" y2="235.0" stroke-width="1.2" />
<polygon points="815.5,241 813.5,235.0 817.5,235.0" stroke-width="0.6" fill="#000" />
<path d="M 921.62 263.95 L 948.48 251.82 L 953.24 251.82 L 972.3 261.35 L 973.6 305.97 L 973.17 318.96 C 972.3 324.38 963.64 325.89 957.58 323.3 C 954.98 321.56 954.98 316.8 954.98 301.64 L 954.98 288.64 L 923.79 299.9 L 923.79 316.8 L 915.99 316.8 L 908.63 313.77 L 905.59 305.97 L 905.16 263.95 L 908.63 259.62 L 915.99 258.32 Z" stroke-width="1.8" fill="#fff" />
<path d="M 921.62 263.95 L 923.79 299.9" stroke-width="1.5" fill="none" />
<path d="M 915.12 287.77 L 948.48 279.11 M 915.99 290.81 L 948.48 282.58 M 922.49 298.6 L 949.78 290.81" stroke-width="1.6" fill="none" />
<path d="M 915.12 287.77 L 915.99 290.81 L 916.42 316.8" stroke-width="1.4" fill="none" />
<path d="M 948.48 251.82 L 948.91 279.98" stroke-width="1.4" fill="none" />
<path d="M 953.24 253.12 L 954.11 264.82" stroke-width="1.3" fill="none" />
<path d="M 969.71 264.82 L 970.57 318.96" stroke-width="1.3" fill="none" />
<circle cx="911.66" cy="269.15" r="1.73" stroke-width="2.0" fill="none"/>
<ellipse cx="912.09" cy="307.27" rx="2.38" ry="3.25" transform="rotate(0 912.09 307.27)" stroke-width="1.8" fill="none"/>
<path d="M 907.33 294.27 L 911.66 294.27 L 911.66 298.17 L 907.33 298.17 Z" stroke-width="1.4" fill="none" />
<line x1="903.43" y1="273.48" x2="910.79" y2="270.88" stroke-width="1.2" />
<path d="M 948.48 265.25 L 954.98 260.48 L 964.94 259.62 L 969.27 263.95 L 969.27 287.77 L 962.77 290.81 L 961.47 299.47 L 948.48 300.77 L 947.61 295.14 L 952.81 290.81 L 951.94 269.15 Z" stroke-width="2.0" fill="#fff" />
<path d="M 951.94 269.15 L 961.47 266.98 L 969.27 263.95 M 961.47 266.98 L 962.34 290.81" stroke-width="1.6" fill="none" />
<path d="M 954.11 264.38 L 959.31 261.78 L 965.81 263.08" stroke-width="1.6" fill="none" />
<path d="M 947.61 294.27 L 961.47 292.97 L 961.47 299.47 L 948.48 300.77 Z" stroke-width="1.0" fill="#000" />
<path d="M 942.85 270.45 L 948.48 269.15 L 948.48 272.61 L 943.28 273.05" stroke-width="1.4" fill="none" />
<line x1="954.98" y1="253.12" x2="975.77" y2="242.29" stroke-width="1.2" />
<polyline points="934.4,316.8 934.4,302.72 951.73,325.46 951.73,305.97" stroke-width="1.2" fill="none" />
<line x1="934.4" y1="311.4" x2="934.4" y2="313.4" stroke-width="1.2" />
<polygon points="934.4,319.4 932.4,313.4 936.4,313.4" stroke-width="0.6" fill="#000" />
<path d="M 907.54 65.73 L 912.82 63.62 L 925.73 68.78 L 935.12 71.83 L 942.86 75.35 L 940.99 76.53 L 925.73 79.34 L 916.34 80.75 L 908.36 78.17 Z" stroke-width="1.8" fill="#fff" />
<path d="M 912.82 63.62 L 913.05 73.47 L 908.36 78.17 M 913.05 73.47 L 925.73 75.23" stroke-width="1.5" fill="none" />
<path d="M 916.34 75.23 L 935.12 74.06 L 937.46 76.06 L 918.69 80.75 Z" stroke-width="1.0" fill="#000" />
<path d="M 912.82 63.62 L 925.73 68.54" stroke-width="2.6" fill="none" />
<path d="M 914.69 87.56 L 940.99 76.53 L 942.86 75.35 L 943.8 78.17 L 943.8 93.66 L 940.99 96.48 L 915.16 105.16 L 912.11 106.34 L 911.64 105.16 L 915.16 101.64 Z" stroke-width="1.9" fill="#fff" />
<path d="M 917.04 90.14 L 938.4 81.92 C 940.4 81.46 941.22 82.86 941.22 84.27 L 941.22 91.08 C 940.99 92.49 940.28 92.96 939.34 93.43 L 917.75 101.17 Z" stroke-width="1.6" fill="none" />
<path d="M 916.1 88.73 L 940.99 78.4" stroke-width="1.3" fill="none" />
<path d="M 915.16 103.52 L 942.16 94.6" stroke-width="1.3" fill="none" />
<circle cx="918.69" cy="96.95" r="1.53" stroke-width="1.8" fill="none"/>
<path d="M 922.79 92.49 L 926.67 91.31 L 926.9 95.31 L 923.03 96.48 Z" stroke-width="1.0" fill="#000" />
<circle cx="932.77" cy="91.78" r="1.29" stroke-width="2.2" fill="none"/>
<path d="M 911.64 85.21 L 915.16 84.04 L 914.69 87.56" stroke-width="2.0" fill="none" />
<path d="M 911.64 105.16 L 914.69 106.81" stroke-width="2.4" fill="none" />
<line x1="908.12" y1="74.06" x2="887.4" y2="67.16" stroke-width="1.2" />
<polygon points="881.71,65.26 888.03,65.26 886.77,69.05" stroke-width="0.6" fill="#000" />
<line x1="898.26" y1="87.56" x2="914.69" y2="94.6" stroke-width="1.2" />
<path d="M 982.48 157.05 L 990.6 155.43 L 1019.01 165.71 L 1024.42 171.12 L 1023.88 183.3 L 1016.31 186.82 L 1014.95 184.65 L 989.24 175.99 L 983.83 172.48 Z" stroke-width="1.8" fill="#fff" />
<path d="M 990.6 155.43 L 990.05 160.3 M 990.6 156.51 L 1018.34 166.79 L 1023.88 171.94" stroke-width="1.4" fill="none" />
<path d="M 989.24 175.99 L 1014.95 184.65 M 990.6 177.89 L 1015.76 186.82" stroke-width="1.4" fill="none" />
<path d="M 956.77 167.33 L 959.47 164.36 L 982.48 157.05 L 983.83 172.48 L 980.58 175.99 L 960.83 186.82 L 958.12 184.65 Z" stroke-width="1.9" fill="#fff" />
<path d="M 958.93 169.23 L 980.58 162.46 L 981.39 171.94 L 961.64 182.22 Z" stroke-width="1.5" fill="none" />
<path d="M 958.12 167.06 L 981.94 158.94" stroke-width="1.2" fill="none" />
<path d="M 959.74 184.65 L 982.48 173.83" stroke-width="1.3" fill="none" />
<circle cx="960.28" cy="173.83" r="1.49" stroke-width="2.0" fill="none"/>
<path d="M 965.16 170.04 L 968.4 168.96 L 968.67 173.02 L 965.43 174.1 Z" stroke-width="1.8" fill="none" />
<circle cx="973.82" cy="168.96" r="1.49" stroke-width="2.0" fill="none"/>
<path d="M 960.83 186.82 L 977.06 180.6 L 989.24 175.99" stroke-width="2.0" fill="none" />
<path d="M 984.64 162.46 L 990.6 160.3 L 1004.13 165.17 L 1004.4 170.58 L 997.63 173.83 L 985.99 169.23 Z" stroke-width="1.9" fill="#fff" />
<path d="M 984.64 162.46 L 997.36 167.06 L 1004.13 165.17 M 997.36 167.06 L 997.63 173.83" stroke-width="1.5" fill="none" />
<path d="M 999.53 169.23 L 1006.83 171.66 L 1009.81 173.29 L 1008.46 175.99 L 1001.69 175.45 L 998.71 173.29 Z" stroke-width="1.8" fill="#fff" />
<circle cx="1005.48" cy="173.83" r="1.35" stroke-width="1.6" fill="none"/>
<path d="M 1001.42 170.45 L 1000.88 174.91" stroke-width="1.4" fill="none" />
<line x1="978.42" y1="181.95" x2="998.71" y2="190.88" stroke-width="1.2" />
<line x1="1023.75" y1="181.95" x2="1033.23" y2="185.87" stroke-width="1.2" />
<polygon points="1038.77,188.17 1032.46,187.72 1033.99,184.03" stroke-width="0.6" fill="#000" />
<polygon points="1054.9,33.3 1076,24.1 1075,18.1 1092.3,25.2 1085.3,41.9 1082,37.6 1060.4,46.8" stroke-width="0.8" fill="#000" />
<text x="1029.5" y="59.8" transform="rotate(-23.7 1029.5 59.8)" font-size="18.5" font-weight="bold" letter-spacing="0" style="stroke:#000;stroke-width:1px">FR.</text>
<path d="M 808.19 425.55 L 820.78 418.55 L 840.36 407.36 L 876.74 384.97 L 907.52 368.19 L 924.3 362.87 L 946.69 361.75 L 980.26 362.59 L 1005.44 366.79 L 1030.63 375.18 L 1046.02 382.18 L 1054.41 391.97 L 1060.01 401.76 L 1062.8 414.35 L 1061.4 421.63 L 1053.01 428.9 L 1051.61 423.31" stroke-width="1.3" fill="none" />
<path d="M 808.19 425.55 L 799.79 445.13 L 796.99 461.92 L 806.79 470.31 L 826.37 481.51 L 845.96 489.9 L 865.55 495.5 L 882.33 497.17 L 894.09 493.26" stroke-width="1.3" fill="none" />
<path d="M 1051.61 423.31 L 1054.41 431.7 L 1048.81 433.94" stroke-width="1.2" fill="none" />
<path d="M 893.53 489.9 C 892.13 473.11 901.92 460.52 913.11 461.92 C 924.3 463.32 929.9 470.31 929.34 481.51" stroke-width="1.3" fill="none" />
<ellipse cx="911.43" cy="485.98" rx="13.99" ry="20.15" transform="rotate(12 911.43 485.98)" stroke-width="1.5" fill="#fff"/>
<ellipse cx="912.55" cy="486.54" rx="9.23" ry="14.55" transform="rotate(12 912.55 486.54)" stroke-width="1.3" fill="none"/>
<path d="M 1018.88 433.94 C 1018.04 419.95 1026.43 407.36 1037.62 408.76 C 1046.02 409.88 1050.21 417.15 1050.21 425.55" stroke-width="1.3" fill="none" />
<ellipse cx="1035.38" cy="430.58" rx="13.15" ry="20.15" transform="rotate(10 1035.38 430.58)" stroke-width="1.5" fill="#fff"/>
<ellipse cx="1036.5" cy="431.14" rx="9.23" ry="15.11" transform="rotate(10 1036.5 431.14)" stroke-width="1.3" fill="none"/>
<path d="M 929.34 470.87 L 969.07 460.52 L 1016.08 445.13" stroke-width="1.3" fill="none" />
<path d="M 955.08 467.52 L 1013.84 447.93" stroke-width="1.2" fill="none" />
<path d="M 886.53 452.41 L 901.92 445.13 L 946.69 431.7 L 985.86 419.95 L 1019.43 407.36 L 1041.82 400.36 L 1054.41 396.17" stroke-width="1.2" fill="none" />
<path d="M 901.92 440.1 L 946.69 428.9" stroke-width="1.2" fill="none" />
<path d="M 901.92 440.1 L 921.51 419.95 L 941.09 404.84 L 957.88 394.77 L 985.86 391.97 L 1005.44 396.17 L 1019.99 402.04 L 985.86 414.35 L 946.69 429.74" stroke-width="1.3" fill="none" />
<path d="M 907.52 438.98 L 941.09 408.76" stroke-width="1.1" fill="none" />
<path d="M 935.5 402.6 L 957.88 391.41 L 985.86 389.17 L 1013.84 391.97 L 1030.63 397.57" stroke-width="1.2" fill="none" />
<path d="M 969.07 363.43 L 1002.65 375.18 L 1022.23 387.77 L 1030.63 397.57" stroke-width="1.2" fill="none" />
<path d="M 1022.23 387.77 L 1046.02 383.02" stroke-width="1.1" fill="none" />
<path d="M 941.09 405.96 L 945.57 431.14 L 952.28 465.84 L 964.03 464.16 L 1013.84 445.69 L 1015.52 423.31 L 1011.04 410.16" stroke-width="1.3" fill="none" />
<path d="M 991.45 393.65 L 997.61 407.08 L 1013.84 423.31" stroke-width="1.2" fill="none" />
<path d="M 949.49 424.43 L 978.02 416.03" stroke-width="1.2" fill="none" />
<path d="M 995.93 402.04 L 1002.65 403.16 L 1004.33 413.23 L 998.73 414.91 Z" stroke-width="1.3" fill="#fff" />
<path d="M 817.98 424.43 L 840.36 410.44 L 879.54 388.05 L 921.51 371.26" stroke-width="1.2" fill="none" />
<path d="M 817.98 424.43 L 845.96 433.38 L 882.33 442.33 L 910.31 423.31 L 935.5 403.16" stroke-width="1.2" fill="none" />
<path d="M 826.37 419.39 L 836.17 423.31 M 882.33 396.45 L 916.47 409.32 M 913.11 377.98 L 946.69 390.85 M 850.16 431.14 L 882.33 440.1" stroke-width="1.1" fill="none" />
<path d="M 946.69 366.79 L 957.88 369.03 L 946.69 390.85 L 941.09 404.84" stroke-width="1.1" fill="none" />
<path d="M 808.19 425.55 L 812.38 431.7 L 863.31 452.41 L 886.53 452.41" stroke-width="1.2" fill="none" />
<path d="M 811.26 429.46 L 864.43 450.17 L 882.89 449.05" stroke-width="2.2" fill="none" />
<path d="M 809.59 433.94 L 817.98 456.88 L 845.96 469.19 L 858.83 458.0 L 864.43 452.41" stroke-width="1.3" fill="none" />
<path d="M 819.66 445.13 L 842.04 454.64 L 842.04 463.6 L 820.78 455.2 Z" stroke-width="1.3" fill="none" />
<path d="M 842.04 463.6 L 845.96 469.19" stroke-width="1.0" fill="none" />
<ellipse cx="831.97" cy="446.81" rx="2.52" ry="1.96" transform="rotate(0 831.97 446.81)" stroke-width="1.2" fill="none"/>
<path d="M 864.43 452.41 L 886.53 452.41 L 882.33 461.92 L 857.15 466.4 L 848.76 470.31" stroke-width="1.2" fill="none" />
<path d="M 806.79 470.31 L 809.59 466.96 L 826.37 473.67 L 845.96 484.86 L 865.55 488.78" stroke-width="1.1" fill="none" />
<path d="M 868.34 481.51 L 870.02 495.5" stroke-width="1.0" fill="none" />
<ellipse cx="850.16" cy="494.38" rx="2.8" ry="2.24" transform="rotate(0 850.16 494.38)" stroke-width="1.2" fill="none"/>
<path d="M 799.79 445.13 L 806.79 442.33 L 809.59 433.94" stroke-width="1.1" fill="none" />
<path d="M 1030.63 375.18 L 1041.82 391.97 L 1054.41 396.17" stroke-width="1.1" fill="none" />
<path d="M 1050.21 391.97 L 1055.81 401.76 L 1053.01 405.96" stroke-width="1.1" fill="none" />
<path d="M 839.8 416.03 L 879.54 388.61 L 924.3 369.03 L 946.69 366.79" stroke-width="2.8" fill="none" />
<path d="M 839.24 416.03 L 845.96 435.06" stroke-width="3.0" fill="none" />
<path d="M 876.74 385.81 L 881.21 390.85 M 896.32 377.98 L 899.68 381.34 M 910.31 371.26 L 913.11 375.74" stroke-width="2.6" fill="none" />
<ellipse cx="851.56" cy="416.03" rx="3.36" ry="2.52" transform="rotate(0 851.56 416.03)" stroke-width="1.0" fill="#000"/>
<ellipse cx="878.98" cy="421.63" rx="3.36" ry="2.52" transform="rotate(0 878.98 421.63)" stroke-width="1.0" fill="#000"/>
<ellipse cx="900.52" cy="391.41" rx="3.08" ry="2.24" transform="rotate(0 900.52 391.41)" stroke-width="1.0" fill="#000"/>
<ellipse cx="950.04" cy="382.46" rx="4.2" ry="5.04" transform="rotate(0 950.04 382.46)" stroke-width="1.0" fill="#000"/>
<ellipse cx="960.68" cy="394.21" rx="6.16" ry="3.92" transform="rotate(0 960.68 394.21)" stroke-width="1.0" fill="#000"/>
<ellipse cx="943.33" cy="455.76" rx="3.08" ry="2.8" transform="rotate(0 943.33 455.76)" stroke-width="1.0" fill="#000"/>
<ellipse cx="971.31" cy="459.68" rx="3.08" ry="2.52" transform="rotate(0 971.31 459.68)" stroke-width="1.0" fill="#000"/>
<ellipse cx="1043.5" cy="402.04" rx="2.52" ry="3.08" transform="rotate(0 1043.5 402.04)" stroke-width="1.0" fill="#000"/>
<ellipse cx="1005.44" cy="372.38" rx="1.12" ry="2.8" transform="rotate(0 1005.44 372.38)" stroke-width="1.0" fill="#000"/>
<path d="M 814.06 433.94 L 821.34 454.09 L 844.84 464.72 L 856.03 456.32" stroke-width="1.0" fill="none" />
<path d="M 868.34 454.09 L 884.01 454.09 L 881.21 460.24 L 859.95 464.16" stroke-width="1.0" fill="none" />
<path d="M 798.39 460.8 L 807.91 465.28 L 826.37 471.99 L 847.08 481.51 L 866.66 485.42" stroke-width="1.0" fill="none" />
<path d="M 823.02 448.49 L 839.24 455.76" stroke-width="1.0" fill="none" />
<g transform="translate(158.2 357.4) rotate(24) scale(1.0)" stroke-width="1.1"><path d="M-3,-2.5 L-11.5,-1.9 L-14,0 L-11.5,1.9 L-3,2.5 Z" fill="#fff" stroke-width="1.8"/><line x1="-11.6" y1="2.1" x2="-10.6" y2="-2.1" stroke-width="1.2"/><line x1="-9.7" y1="2.1" x2="-8.7" y2="-2.1" stroke-width="1.2"/><line x1="-7.8" y1="2.1" x2="-6.8" y2="-2.1" stroke-width="1.2"/><line x1="-5.9" y1="2.1" x2="-4.9" y2="-2.1" stroke-width="1.2"/><line x1="-4.0" y1="2.1" x2="-3.0" y2="-2.1" stroke-width="1.2"/><path d="M1,-5.0 L12,-5.0 A2.4,5.0 0 0 1 12,5.0 L1,5.0 Z" fill="#fff" stroke-width="1.9"/><ellipse cx="11.6" cy="0" rx="2.0" ry="4.2" fill="#fff" stroke-width="1.0"/><path d="M3,-1.8 L9.8,-1.8 M3,2.4 L9.8,2.4" stroke-width="1.3"/><path d="M2.5,-1.8 L6,-1.8 L6,2.4 L2.5,2.4 Z" fill="#000" stroke="none"/><ellipse cx="0" cy="0" rx="2.9" ry="7.4" fill="#fff" stroke-width="2.0"/><ellipse cx="1.7" cy="0" rx="2.2" ry="5.8" fill="#fff" stroke-width="1.3"/></g>
<g transform="translate(246.5 310.3) rotate(28) scale(1.0)" stroke-width="1.1"><path d="M-3,-2.5 L-11.5,-1.9 L-14,0 L-11.5,1.9 L-3,2.5 Z" fill="#fff" stroke-width="1.8"/><line x1="-11.6" y1="2.1" x2="-10.6" y2="-2.1" stroke-width="1.2"/><line x1="-9.7" y1="2.1" x2="-8.7" y2="-2.1" stroke-width="1.2"/><line x1="-7.8" y1="2.1" x2="-6.8" y2="-2.1" stroke-width="1.2"/><line x1="-5.9" y1="2.1" x2="-4.9" y2="-2.1" stroke-width="1.2"/><line x1="-4.0" y1="2.1" x2="-3.0" y2="-2.1" stroke-width="1.2"/><path d="M1,-5.0 L12,-5.0 A2.4,5.0 0 0 1 12,5.0 L1,5.0 Z" fill="#fff" stroke-width="1.9"/><ellipse cx="11.6" cy="0" rx="2.0" ry="4.2" fill="#fff" stroke-width="1.0"/><path d="M3,-1.8 L9.8,-1.8 M3,2.4 L9.8,2.4" stroke-width="1.3"/><path d="M2.5,-1.8 L6,-1.8 L6,2.4 L2.5,2.4 Z" fill="#000" stroke="none"/><ellipse cx="0" cy="0" rx="2.9" ry="7.4" fill="#fff" stroke-width="2.0"/><ellipse cx="1.7" cy="0" rx="2.2" ry="5.8" fill="#fff" stroke-width="1.3"/></g>
<g transform="translate(161 429.3) rotate(-33) scale(1.0)" stroke-width="1.1"><path d="M-3,-2.5 L-11.5,-1.9 L-14,0 L-11.5,1.9 L-3,2.5 Z" fill="#fff" stroke-width="1.8"/><line x1="-11.6" y1="2.1" x2="-10.6" y2="-2.1" stroke-width="1.2"/><line x1="-9.7" y1="2.1" x2="-8.7" y2="-2.1" stroke-width="1.2"/><line x1="-7.8" y1="2.1" x2="-6.8" y2="-2.1" stroke-width="1.2"/><line x1="-5.9" y1="2.1" x2="-4.9" y2="-2.1" stroke-width="1.2"/><line x1="-4.0" y1="2.1" x2="-3.0" y2="-2.1" stroke-width="1.2"/><path d="M1,-5.0 L12,-5.0 A2.4,5.0 0 0 1 12,5.0 L1,5.0 Z" fill="#fff" stroke-width="1.9"/><ellipse cx="11.6" cy="0" rx="2.0" ry="4.2" fill="#fff" stroke-width="1.0"/><path d="M3,-1.8 L9.8,-1.8 M3,2.4 L9.8,2.4" stroke-width="1.3"/><path d="M2.5,-1.8 L6,-1.8 L6,2.4 L2.5,2.4 Z" fill="#000" stroke="none"/><ellipse cx="0" cy="0" rx="2.9" ry="7.4" fill="#fff" stroke-width="2.0"/><ellipse cx="1.7" cy="0" rx="2.2" ry="5.8" fill="#fff" stroke-width="1.3"/></g>
<g transform="translate(275.8 292) rotate(31) scale(1.0)" stroke-width="1.1"><path d="M-3,-2.5 L-11.5,-1.9 L-14,0 L-11.5,1.9 L-3,2.5 Z" fill="#fff" stroke-width="1.8"/><line x1="-11.6" y1="2.1" x2="-10.6" y2="-2.1" stroke-width="1.2"/><line x1="-9.7" y1="2.1" x2="-8.7" y2="-2.1" stroke-width="1.2"/><line x1="-7.8" y1="2.1" x2="-6.8" y2="-2.1" stroke-width="1.2"/><line x1="-5.9" y1="2.1" x2="-4.9" y2="-2.1" stroke-width="1.2"/><line x1="-4.0" y1="2.1" x2="-3.0" y2="-2.1" stroke-width="1.2"/><path d="M1,-5.0 L12,-5.0 A2.4,5.0 0 0 1 12,5.0 L1,5.0 Z" fill="#fff" stroke-width="1.9"/><ellipse cx="11.6" cy="0" rx="2.0" ry="4.2" fill="#fff" stroke-width="1.0"/><path d="M3,-1.8 L9.8,-1.8 M3,2.4 L9.8,2.4" stroke-width="1.3"/><path d="M2.5,-1.8 L6,-1.8 L6,2.4 L2.5,2.4 Z" fill="#000" stroke="none"/><ellipse cx="0" cy="0" rx="2.9" ry="7.4" fill="#fff" stroke-width="2.0"/><ellipse cx="1.7" cy="0" rx="2.2" ry="5.8" fill="#fff" stroke-width="1.3"/></g>
<g transform="translate(382 222.7) rotate(31) scale(1.0)" stroke-width="1.1"><path d="M-3,-2.5 L-11.5,-1.9 L-14,0 L-11.5,1.9 L-3,2.5 Z" fill="#fff" stroke-width="1.8"/><line x1="-11.6" y1="2.1" x2="-10.6" y2="-2.1" stroke-width="1.2"/><line x1="-9.7" y1="2.1" x2="-8.7" y2="-2.1" stroke-width="1.2"/><line x1="-7.8" y1="2.1" x2="-6.8" y2="-2.1" stroke-width="1.2"/><line x1="-5.9" y1="2.1" x2="-4.9" y2="-2.1" stroke-width="1.2"/><line x1="-4.0" y1="2.1" x2="-3.0" y2="-2.1" stroke-width="1.2"/><path d="M1,-5.0 L12,-5.0 A2.4,5.0 0 0 1 12,5.0 L1,5.0 Z" fill="#fff" stroke-width="1.9"/><ellipse cx="11.6" cy="0" rx="2.0" ry="4.2" fill="#fff" stroke-width="1.0"/><path d="M3,-1.8 L9.8,-1.8 M3,2.4 L9.8,2.4" stroke-width="1.3"/><path d="M2.5,-1.8 L6,-1.8 L6,2.4 L2.5,2.4 Z" fill="#000" stroke="none"/><ellipse cx="0" cy="0" rx="2.9" ry="7.4" fill="#fff" stroke-width="2.0"/><ellipse cx="1.7" cy="0" rx="2.2" ry="5.8" fill="#fff" stroke-width="1.3"/></g>
<g transform="translate(413.2 226.5) rotate(30) scale(1.0)" stroke-width="1.1"><path d="M-3,-2.5 L-11.5,-1.9 L-14,0 L-11.5,1.9 L-3,2.5 Z" fill="#fff" stroke-width="1.8"/><line x1="-11.6" y1="2.1" x2="-10.6" y2="-2.1" stroke-width="1.2"/><line x1="-9.7" y1="2.1" x2="-8.7" y2="-2.1" stroke-width="1.2"/><line x1="-7.8" y1="2.1" x2="-6.8" y2="-2.1" stroke-width="1.2"/><line x1="-5.9" y1="2.1" x2="-4.9" y2="-2.1" stroke-width="1.2"/><line x1="-4.0" y1="2.1" x2="-3.0" y2="-2.1" stroke-width="1.2"/><path d="M1,-5.0 L12,-5.0 A2.4,5.0 0 0 1 12,5.0 L1,5.0 Z" fill="#fff" stroke-width="1.9"/><ellipse cx="11.6" cy="0" rx="2.0" ry="4.2" fill="#fff" stroke-width="1.0"/><path d="M3,-1.8 L9.8,-1.8 M3,2.4 L9.8,2.4" stroke-width="1.3"/><path d="M2.5,-1.8 L6,-1.8 L6,2.4 L2.5,2.4 Z" fill="#000" stroke="none"/><ellipse cx="0" cy="0" rx="2.9" ry="7.4" fill="#fff" stroke-width="2.0"/><ellipse cx="1.7" cy="0" rx="2.2" ry="5.8" fill="#fff" stroke-width="1.3"/></g>
<g transform="translate(494.5 147.7) rotate(27) scale(1.0)" stroke-width="1.1"><path d="M-3,-2.5 L-11.5,-1.9 L-14,0 L-11.5,1.9 L-3,2.5 Z" fill="#fff" stroke-width="1.8"/><line x1="-11.6" y1="2.1" x2="-10.6" y2="-2.1" stroke-width="1.2"/><line x1="-9.7" y1="2.1" x2="-8.7" y2="-2.1" stroke-width="1.2"/><line x1="-7.8" y1="2.1" x2="-6.8" y2="-2.1" stroke-width="1.2"/><line x1="-5.9" y1="2.1" x2="-4.9" y2="-2.1" stroke-width="1.2"/><line x1="-4.0" y1="2.1" x2="-3.0" y2="-2.1" stroke-width="1.2"/><path d="M1,-5.0 L12,-5.0 A2.4,5.0 0 0 1 12,5.0 L1,5.0 Z" fill="#fff" stroke-width="1.9"/><ellipse cx="11.6" cy="0" rx="2.0" ry="4.2" fill="#fff" stroke-width="1.0"/><path d="M3,-1.8 L9.8,-1.8 M3,2.4 L9.8,2.4" stroke-width="1.3"/><path d="M2.5,-1.8 L6,-1.8 L6,2.4 L2.5,2.4 Z" fill="#000" stroke="none"/><ellipse cx="0" cy="0" rx="2.9" ry="7.4" fill="#fff" stroke-width="2.0"/><ellipse cx="1.7" cy="0" rx="2.2" ry="5.8" fill="#fff" stroke-width="1.3"/></g>
<g transform="translate(587.7 152.7) rotate(26.5) scale(1.0)" stroke-width="1.1"><path d="M-3,-2.5 L-11.5,-1.9 L-14,0 L-11.5,1.9 L-3,2.5 Z" fill="#fff" stroke-width="1.8"/><line x1="-11.6" y1="2.1" x2="-10.6" y2="-2.1" stroke-width="1.2"/><line x1="-9.7" y1="2.1" x2="-8.7" y2="-2.1" stroke-width="1.2"/><line x1="-7.8" y1="2.1" x2="-6.8" y2="-2.1" stroke-width="1.2"/><line x1="-5.9" y1="2.1" x2="-4.9" y2="-2.1" stroke-width="1.2"/><line x1="-4.0" y1="2.1" x2="-3.0" y2="-2.1" stroke-width="1.2"/><path d="M1,-5.0 L12,-5.0 A2.4,5.0 0 0 1 12,5.0 L1,5.0 Z" fill="#fff" stroke-width="1.9"/><ellipse cx="11.6" cy="0" rx="2.0" ry="4.2" fill="#fff" stroke-width="1.0"/><path d="M3,-1.8 L9.8,-1.8 M3,2.4 L9.8,2.4" stroke-width="1.3"/><path d="M2.5,-1.8 L6,-1.8 L6,2.4 L2.5,2.4 Z" fill="#000" stroke="none"/><ellipse cx="0" cy="0" rx="2.9" ry="7.4" fill="#fff" stroke-width="2.0"/><ellipse cx="1.7" cy="0" rx="2.2" ry="5.8" fill="#fff" stroke-width="1.3"/></g>
<g transform="translate(654 108.7) rotate(27) scale(1.0)" stroke-width="1.1"><path d="M-3,-2.5 L-11.5,-1.9 L-14,0 L-11.5,1.9 L-3,2.5 Z" fill="#fff" stroke-width="1.8"/><line x1="-11.6" y1="2.1" x2="-10.6" y2="-2.1" stroke-width="1.2"/><line x1="-9.7" y1="2.1" x2="-8.7" y2="-2.1" stroke-width="1.2"/><line x1="-7.8" y1="2.1" x2="-6.8" y2="-2.1" stroke-width="1.2"/><line x1="-5.9" y1="2.1" x2="-4.9" y2="-2.1" stroke-width="1.2"/><line x1="-4.0" y1="2.1" x2="-3.0" y2="-2.1" stroke-width="1.2"/><path d="M1,-5.0 L12,-5.0 A2.4,5.0 0 0 1 12,5.0 L1,5.0 Z" fill="#fff" stroke-width="1.9"/><ellipse cx="11.6" cy="0" rx="2.0" ry="4.2" fill="#fff" stroke-width="1.0"/><path d="M3,-1.8 L9.8,-1.8 M3,2.4 L9.8,2.4" stroke-width="1.3"/><path d="M2.5,-1.8 L6,-1.8 L6,2.4 L2.5,2.4 Z" fill="#000" stroke="none"/><ellipse cx="0" cy="0" rx="2.9" ry="7.4" fill="#fff" stroke-width="2.0"/><ellipse cx="1.7" cy="0" rx="2.2" ry="5.8" fill="#fff" stroke-width="1.3"/></g>
<g transform="translate(746.5 95) rotate(26.5) scale(1.0)" stroke-width="1.1"><path d="M-3,-2.5 L-11.5,-1.9 L-14,0 L-11.5,1.9 L-3,2.5 Z" fill="#fff" stroke-width="1.8"/><line x1="-11.6" y1="2.1" x2="-10.6" y2="-2.1" stroke-width="1.2"/><line x1="-9.7" y1="2.1" x2="-8.7" y2="-2.1" stroke-width="1.2"/><line x1="-7.8" y1="2.1" x2="-6.8" y2="-2.1" stroke-width="1.2"/><line x1="-5.9" y1="2.1" x2="-4.9" y2="-2.1" stroke-width="1.2"/><line x1="-4.0" y1="2.1" x2="-3.0" y2="-2.1" stroke-width="1.2"/><path d="M1,-5.0 L12,-5.0 A2.4,5.0 0 0 1 12,5.0 L1,5.0 Z" fill="#fff" stroke-width="1.9"/><ellipse cx="11.6" cy="0" rx="2.0" ry="4.2" fill="#fff" stroke-width="1.0"/><path d="M3,-1.8 L9.8,-1.8 M3,2.4 L9.8,2.4" stroke-width="1.3"/><path d="M2.5,-1.8 L6,-1.8 L6,2.4 L2.5,2.4 Z" fill="#000" stroke="none"/><ellipse cx="0" cy="0" rx="2.9" ry="7.4" fill="#fff" stroke-width="2.0"/><ellipse cx="1.7" cy="0" rx="2.2" ry="5.8" fill="#fff" stroke-width="1.3"/></g>
<g transform="translate(780.2 76.2) rotate(41) scale(1.0)" stroke-width="1.1"><path d="M-3,-2.5 L-11.5,-1.9 L-14,0 L-11.5,1.9 L-3,2.5 Z" fill="#fff" stroke-width="1.8"/><line x1="-11.6" y1="2.1" x2="-10.6" y2="-2.1" stroke-width="1.2"/><line x1="-9.7" y1="2.1" x2="-8.7" y2="-2.1" stroke-width="1.2"/><line x1="-7.8" y1="2.1" x2="-6.8" y2="-2.1" stroke-width="1.2"/><line x1="-5.9" y1="2.1" x2="-4.9" y2="-2.1" stroke-width="1.2"/><line x1="-4.0" y1="2.1" x2="-3.0" y2="-2.1" stroke-width="1.2"/><path d="M1,-5.0 L12,-5.0 A2.4,5.0 0 0 1 12,5.0 L1,5.0 Z" fill="#fff" stroke-width="1.9"/><ellipse cx="11.6" cy="0" rx="2.0" ry="4.2" fill="#fff" stroke-width="1.0"/><path d="M3,-1.8 L9.8,-1.8 M3,2.4 L9.8,2.4" stroke-width="1.3"/><path d="M2.5,-1.8 L6,-1.8 L6,2.4 L2.5,2.4 Z" fill="#000" stroke="none"/><ellipse cx="0" cy="0" rx="2.9" ry="7.4" fill="#fff" stroke-width="2.0"/><ellipse cx="1.7" cy="0" rx="2.2" ry="5.8" fill="#fff" stroke-width="1.3"/></g>
<g transform="translate(428.5 379.8) rotate(24) scale(1.0)" stroke-width="1.1"><path d="M-4,-3.0 L-18.5,-3.0 A3,3 0 0 0 -18.5,3.0 L-4,3.0 Z" fill="#fff" stroke-width="1.6"/><line x1="-18.8" y1="2.8" x2="-17.5" y2="-2.8" stroke-width="1.1"/><line x1="-16.6" y1="2.8" x2="-15.3" y2="-2.8" stroke-width="1.1"/><line x1="-14.4" y1="2.8" x2="-13.1" y2="-2.8" stroke-width="1.1"/><line x1="-12.2" y1="2.8" x2="-10.899999999999999" y2="-2.8" stroke-width="1.1"/><line x1="-10.0" y1="2.8" x2="-8.7" y2="-2.8" stroke-width="1.1"/><line x1="-7.800000000000001" y1="2.8" x2="-6.500000000000001" y2="-2.8" stroke-width="1.1"/><line x1="-5.6" y1="2.8" x2="-4.3" y2="-2.8" stroke-width="1.1"/><path d="M3,-4.9 L8,-4.7 A3.2,4.7 0 0 1 8,4.7 L3,4.9 Z" fill="#fff" stroke-width="1.5"/><ellipse cx="8.2" cy="0" rx="2.8" ry="4.3" fill="#fff" stroke-width="1.0"/><ellipse cx="8.6" cy="0.2" rx="1.2" ry="2.1" fill="#fff" stroke-width="0.9"/><ellipse cx="-0.5" cy="0" rx="4.2" ry="8.8" fill="#fff" stroke-width="1.6"/><ellipse cx="1.3" cy="0" rx="3.6" ry="7.4" fill="#fff" stroke-width="1.1"/><ellipse cx="3.2" cy="0" rx="3.0" ry="6.0" fill="#fff" stroke-width="1.1"/></g>
<g transform="translate(553.2 433.5) rotate(24) scale(1.0)" stroke-width="1.1"><path d="M-4,-3.0 L-18.5,-3.0 A3,3 0 0 0 -18.5,3.0 L-4,3.0 Z" fill="#fff" stroke-width="1.6"/><line x1="-18.8" y1="2.8" x2="-17.5" y2="-2.8" stroke-width="1.1"/><line x1="-16.6" y1="2.8" x2="-15.3" y2="-2.8" stroke-width="1.1"/><line x1="-14.4" y1="2.8" x2="-13.1" y2="-2.8" stroke-width="1.1"/><line x1="-12.2" y1="2.8" x2="-10.899999999999999" y2="-2.8" stroke-width="1.1"/><line x1="-10.0" y1="2.8" x2="-8.7" y2="-2.8" stroke-width="1.1"/><line x1="-7.800000000000001" y1="2.8" x2="-6.500000000000001" y2="-2.8" stroke-width="1.1"/><line x1="-5.6" y1="2.8" x2="-4.3" y2="-2.8" stroke-width="1.1"/><path d="M3,-4.9 L8,-4.7 A3.2,4.7 0 0 1 8,4.7 L3,4.9 Z" fill="#fff" stroke-width="1.5"/><ellipse cx="8.2" cy="0" rx="2.8" ry="4.3" fill="#fff" stroke-width="1.0"/><ellipse cx="8.6" cy="0.2" rx="1.2" ry="2.1" fill="#fff" stroke-width="0.9"/><ellipse cx="-0.5" cy="0" rx="4.2" ry="8.8" fill="#fff" stroke-width="1.6"/><ellipse cx="1.3" cy="0" rx="3.6" ry="7.4" fill="#fff" stroke-width="1.1"/><ellipse cx="3.2" cy="0" rx="3.0" ry="6.0" fill="#fff" stroke-width="1.1"/></g>
<g transform="translate(594.5 443.8) rotate(199) scale(1.0)" stroke-width="1.1"><path d="M-4,-3.0 L-18.5,-3.0 A3,3 0 0 0 -18.5,3.0 L-4,3.0 Z" fill="#fff" stroke-width="1.6"/><line x1="-18.8" y1="2.8" x2="-17.5" y2="-2.8" stroke-width="1.1"/><line x1="-16.6" y1="2.8" x2="-15.3" y2="-2.8" stroke-width="1.1"/><line x1="-14.4" y1="2.8" x2="-13.1" y2="-2.8" stroke-width="1.1"/><line x1="-12.2" y1="2.8" x2="-10.899999999999999" y2="-2.8" stroke-width="1.1"/><line x1="-10.0" y1="2.8" x2="-8.7" y2="-2.8" stroke-width="1.1"/><line x1="-7.800000000000001" y1="2.8" x2="-6.500000000000001" y2="-2.8" stroke-width="1.1"/><line x1="-5.6" y1="2.8" x2="-4.3" y2="-2.8" stroke-width="1.1"/><ellipse cx="-0.5" cy="0" rx="4.4" ry="9.2" fill="#fff" stroke-width="1.6"/><ellipse cx="1.2" cy="0" rx="4.0" ry="8.4" fill="#fff" stroke-width="1.2"/><path d="M3,-6.6 L6.5,-6.2 A4.2,6.2 0 0 1 6.5,6.2 L3,6.6 A3.4,6.6 0 0 1 3,-6.6 Z" fill="#fff" stroke-width="1.6"/><path d="M3,-6.6 A3.4,6.6 0 0 1 3,6.6" fill="none" stroke-width="1.1"/></g>
<g transform="translate(714.5 483.8) rotate(199) scale(1.0)" stroke-width="1.1"><path d="M-4,-3.0 L-18.5,-3.0 A3,3 0 0 0 -18.5,3.0 L-4,3.0 Z" fill="#fff" stroke-width="1.6"/><line x1="-18.8" y1="2.8" x2="-17.5" y2="-2.8" stroke-width="1.1"/><line x1="-16.6" y1="2.8" x2="-15.3" y2="-2.8" stroke-width="1.1"/><line x1="-14.4" y1="2.8" x2="-13.1" y2="-2.8" stroke-width="1.1"/><line x1="-12.2" y1="2.8" x2="-10.899999999999999" y2="-2.8" stroke-width="1.1"/><line x1="-10.0" y1="2.8" x2="-8.7" y2="-2.8" stroke-width="1.1"/><line x1="-7.800000000000001" y1="2.8" x2="-6.500000000000001" y2="-2.8" stroke-width="1.1"/><line x1="-5.6" y1="2.8" x2="-4.3" y2="-2.8" stroke-width="1.1"/><ellipse cx="-0.5" cy="0" rx="4.4" ry="9.2" fill="#fff" stroke-width="1.6"/><ellipse cx="1.2" cy="0" rx="4.0" ry="8.4" fill="#fff" stroke-width="1.2"/><path d="M3,-6.6 L6.5,-6.2 A4.2,6.2 0 0 1 6.5,6.2 L3,6.6 A3.4,6.6 0 0 1 3,-6.6 Z" fill="#fff" stroke-width="1.6"/><path d="M3,-6.6 A3.4,6.6 0 0 1 3,6.6" fill="none" stroke-width="1.1"/></g>
<g transform="translate(773 260.5) rotate(-90) scale(1.0)" stroke-width="1.1"><path d="M-4,-3.0 L-18.5,-3.0 A3,3 0 0 0 -18.5,3.0 L-4,3.0 Z" fill="#fff" stroke-width="1.6"/><line x1="-18.8" y1="2.8" x2="-17.5" y2="-2.8" stroke-width="1.1"/><line x1="-16.6" y1="2.8" x2="-15.3" y2="-2.8" stroke-width="1.1"/><line x1="-14.4" y1="2.8" x2="-13.1" y2="-2.8" stroke-width="1.1"/><line x1="-12.2" y1="2.8" x2="-10.899999999999999" y2="-2.8" stroke-width="1.1"/><line x1="-10.0" y1="2.8" x2="-8.7" y2="-2.8" stroke-width="1.1"/><line x1="-7.800000000000001" y1="2.8" x2="-6.500000000000001" y2="-2.8" stroke-width="1.1"/><line x1="-5.6" y1="2.8" x2="-4.3" y2="-2.8" stroke-width="1.1"/><path d="M3,-4.9 L8,-4.7 A3.2,4.7 0 0 1 8,4.7 L3,4.9 Z" fill="#fff" stroke-width="1.5"/><ellipse cx="8.2" cy="0" rx="2.8" ry="4.3" fill="#fff" stroke-width="1.0"/><ellipse cx="8.6" cy="0.2" rx="1.2" ry="2.1" fill="#fff" stroke-width="0.9"/><ellipse cx="-0.5" cy="0" rx="4.2" ry="8.8" fill="#fff" stroke-width="1.6"/><ellipse cx="1.3" cy="0" rx="3.6" ry="7.4" fill="#fff" stroke-width="1.1"/><ellipse cx="3.2" cy="0" rx="3.0" ry="6.0" fill="#fff" stroke-width="1.1"/></g>
<g transform="translate(877.6 79.3) rotate(200.6) scale(1.0)" stroke-width="1.1"><path d="M-4,-3.0 L-18.5,-3.0 A3,3 0 0 0 -18.5,3.0 L-4,3.0 Z" fill="#fff" stroke-width="1.6"/><line x1="-18.8" y1="2.8" x2="-17.5" y2="-2.8" stroke-width="1.1"/><line x1="-16.6" y1="2.8" x2="-15.3" y2="-2.8" stroke-width="1.1"/><line x1="-14.4" y1="2.8" x2="-13.1" y2="-2.8" stroke-width="1.1"/><line x1="-12.2" y1="2.8" x2="-10.899999999999999" y2="-2.8" stroke-width="1.1"/><line x1="-10.0" y1="2.8" x2="-8.7" y2="-2.8" stroke-width="1.1"/><line x1="-7.800000000000001" y1="2.8" x2="-6.500000000000001" y2="-2.8" stroke-width="1.1"/><line x1="-5.6" y1="2.8" x2="-4.3" y2="-2.8" stroke-width="1.1"/><ellipse cx="-0.5" cy="0" rx="4.4" ry="9.2" fill="#fff" stroke-width="1.6"/><ellipse cx="1.2" cy="0" rx="4.0" ry="8.4" fill="#fff" stroke-width="1.2"/><path d="M3,-6.6 L6.5,-6.2 A4.2,6.2 0 0 1 6.5,6.2 L3,6.6 A3.4,6.6 0 0 1 3,-6.6 Z" fill="#fff" stroke-width="1.6"/><path d="M3,-6.6 A3.4,6.6 0 0 1 3,6.6" fill="none" stroke-width="1.1"/></g>
<g transform="translate(852 152.7) rotate(-23.3) scale(1.0)" stroke-width="1.1"><path d="M-4,-3.0 L-18.5,-3.0 A3,3 0 0 0 -18.5,3.0 L-4,3.0 Z" fill="#fff" stroke-width="1.6"/><line x1="-18.8" y1="2.8" x2="-17.5" y2="-2.8" stroke-width="1.1"/><line x1="-16.6" y1="2.8" x2="-15.3" y2="-2.8" stroke-width="1.1"/><line x1="-14.4" y1="2.8" x2="-13.1" y2="-2.8" stroke-width="1.1"/><line x1="-12.2" y1="2.8" x2="-10.899999999999999" y2="-2.8" stroke-width="1.1"/><line x1="-10.0" y1="2.8" x2="-8.7" y2="-2.8" stroke-width="1.1"/><line x1="-7.800000000000001" y1="2.8" x2="-6.500000000000001" y2="-2.8" stroke-width="1.1"/><line x1="-5.6" y1="2.8" x2="-4.3" y2="-2.8" stroke-width="1.1"/><path d="M3,-4.9 L8,-4.7 A3.2,4.7 0 0 1 8,4.7 L3,4.9 Z" fill="#fff" stroke-width="1.5"/><ellipse cx="8.2" cy="0" rx="2.8" ry="4.3" fill="#fff" stroke-width="1.0"/><ellipse cx="8.6" cy="0.2" rx="1.2" ry="2.1" fill="#fff" stroke-width="0.9"/><ellipse cx="-0.5" cy="0" rx="4.2" ry="8.8" fill="#fff" stroke-width="1.6"/><ellipse cx="1.3" cy="0" rx="3.6" ry="7.4" fill="#fff" stroke-width="1.1"/><ellipse cx="3.2" cy="0" rx="3.0" ry="6.0" fill="#fff" stroke-width="1.1"/></g>
<g transform="translate(1017.7 199.5) rotate(22) scale(1.0)" stroke-width="1.1"><path d="M-4,-3.0 L-18.5,-3.0 A3,3 0 0 0 -18.5,3.0 L-4,3.0 Z" fill="#fff" stroke-width="1.6"/><line x1="-18.8" y1="2.8" x2="-17.5" y2="-2.8" stroke-width="1.1"/><line x1="-16.6" y1="2.8" x2="-15.3" y2="-2.8" stroke-width="1.1"/><line x1="-14.4" y1="2.8" x2="-13.1" y2="-2.8" stroke-width="1.1"/><line x1="-12.2" y1="2.8" x2="-10.899999999999999" y2="-2.8" stroke-width="1.1"/><line x1="-10.0" y1="2.8" x2="-8.7" y2="-2.8" stroke-width="1.1"/><line x1="-7.800000000000001" y1="2.8" x2="-6.500000000000001" y2="-2.8" stroke-width="1.1"/><line x1="-5.6" y1="2.8" x2="-4.3" y2="-2.8" stroke-width="1.1"/><path d="M3,-4.9 L8,-4.7 A3.2,4.7 0 0 1 8,4.7 L3,4.9 Z" fill="#fff" stroke-width="1.5"/><ellipse cx="8.2" cy="0" rx="2.8" ry="4.3" fill="#fff" stroke-width="1.0"/><ellipse cx="8.6" cy="0.2" rx="1.2" ry="2.1" fill="#fff" stroke-width="0.9"/><ellipse cx="-0.5" cy="0" rx="4.2" ry="8.8" fill="#fff" stroke-width="1.6"/><ellipse cx="1.3" cy="0" rx="3.6" ry="7.4" fill="#fff" stroke-width="1.1"/><ellipse cx="3.2" cy="0" rx="3.0" ry="6.0" fill="#fff" stroke-width="1.1"/></g>
<g transform="translate(993.5 235) rotate(-20.4) scale(1.0)" stroke-width="1.1"><path d="M-4,-3.0 L-18.5,-3.0 A3,3 0 0 0 -18.5,3.0 L-4,3.0 Z" fill="#fff" stroke-width="1.6"/><line x1="-18.8" y1="2.8" x2="-17.5" y2="-2.8" stroke-width="1.1"/><line x1="-16.6" y1="2.8" x2="-15.3" y2="-2.8" stroke-width="1.1"/><line x1="-14.4" y1="2.8" x2="-13.1" y2="-2.8" stroke-width="1.1"/><line x1="-12.2" y1="2.8" x2="-10.899999999999999" y2="-2.8" stroke-width="1.1"/><line x1="-10.0" y1="2.8" x2="-8.7" y2="-2.8" stroke-width="1.1"/><line x1="-7.800000000000001" y1="2.8" x2="-6.500000000000001" y2="-2.8" stroke-width="1.1"/><line x1="-5.6" y1="2.8" x2="-4.3" y2="-2.8" stroke-width="1.1"/><path d="M3,-4.9 L8,-4.7 A3.2,4.7 0 0 1 8,4.7 L3,4.9 Z" fill="#fff" stroke-width="1.5"/><ellipse cx="8.2" cy="0" rx="2.8" ry="4.3" fill="#fff" stroke-width="1.0"/><ellipse cx="8.6" cy="0.2" rx="1.2" ry="2.1" fill="#fff" stroke-width="0.9"/><ellipse cx="-0.5" cy="0" rx="4.2" ry="8.8" fill="#fff" stroke-width="1.6"/><ellipse cx="1.3" cy="0" rx="3.6" ry="7.4" fill="#fff" stroke-width="1.1"/><ellipse cx="3.2" cy="0" rx="3.0" ry="6.0" fill="#fff" stroke-width="1.1"/></g>
</svg>
</body></html>
